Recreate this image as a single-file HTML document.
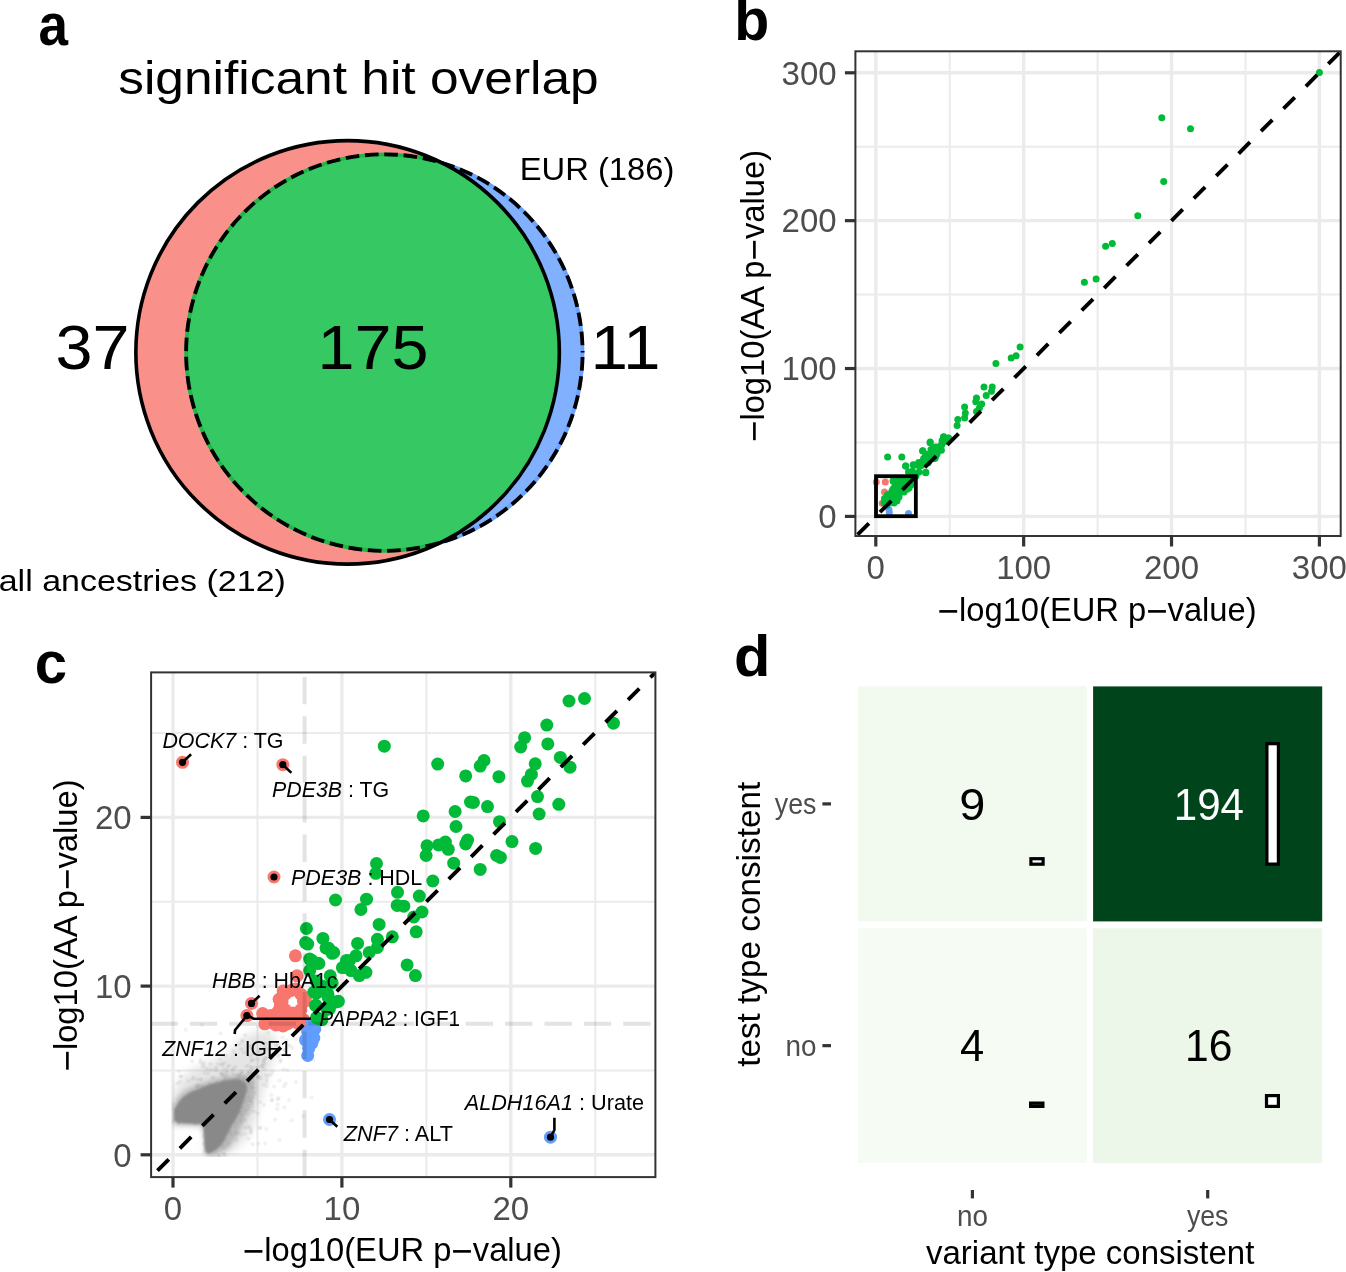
<!DOCTYPE html><html><head><meta charset="utf-8"><style>html,body{margin:0;padding:0;background:#fff;}svg{display:block;will-change:transform;}text{font-family:"Liberation Sans", sans-serif;}</style></head><body>
<svg width="1346" height="1272" viewBox="0 0 1346 1272">
<rect width="100%" height="100%" fill="#fff"/>
<defs>
<clipPath id="clipC1"><circle cx="347.6" cy="352.35" r="211.75"/></clipPath>
<clipPath id="clipOutC1"><path fill-rule="evenodd" d="M0 0H1346V1272H0Z M135.85000000000002 352.35 a211.75 211.75 0 1 0 423.5 0 a211.75 211.75 0 1 0 -423.5 0Z"/></clipPath>
</defs>
<circle cx="347.6" cy="352.35" r="211.75" fill="#F9918A"/>
<circle cx="384.35" cy="352.55" r="198.25" fill="#81B0FF"/>
<circle cx="384.35" cy="352.55" r="198.25" fill="#36C862" clip-path="url(#clipC1)"/>
<circle cx="384.35" cy="352.55" r="198.25" fill="none" stroke="#1DB847" stroke-width="3.8" clip-path="url(#clipC1)"/>
<circle cx="384.35" cy="352.55" r="198.25" fill="none" stroke="#6AA3FF" stroke-width="3.8" clip-path="url(#clipOutC1)"/>
<circle cx="347.6" cy="352.35" r="211.75" fill="none" stroke="#000" stroke-width="3.6"/>
<circle cx="384.35" cy="352.55" r="198.25" fill="none" stroke="#000" stroke-width="3.8" stroke-dasharray="13.6 5.76" stroke-dashoffset="-4.5"/>
<text x="38.6" y="45.2" font-size="58.5" text-anchor="start" fill="#000" font-weight="bold" font-style="normal" textLength="29.5" lengthAdjust="spacingAndGlyphs" >a</text>
<text x="118.2" y="93.8" font-size="47" text-anchor="start" fill="#000" font-weight="normal" font-style="normal" textLength="480.5" lengthAdjust="spacingAndGlyphs" >significant hit overlap</text>
<text x="519.8" y="179.5" font-size="31.2" text-anchor="start" fill="#000" font-weight="normal" font-style="normal" textLength="154.5" lengthAdjust="spacingAndGlyphs" >EUR (186)</text>
<text x="55.5" y="368.5" font-size="62.5" text-anchor="start" fill="#000" font-weight="normal" font-style="normal" textLength="74" lengthAdjust="spacingAndGlyphs" >37</text>
<text x="317.5" y="368.5" font-size="62.5" text-anchor="start" fill="#000" font-weight="normal" font-style="normal" textLength="111" lengthAdjust="spacingAndGlyphs" >175</text>
<text x="590.5" y="368.5" font-size="62.5" text-anchor="start" fill="#000" font-weight="normal" font-style="normal" textLength="70" lengthAdjust="spacingAndGlyphs" >11</text>
<text x="-1.3" y="590.7" font-size="30.3" text-anchor="start" fill="#000" font-weight="normal" font-style="normal" textLength="287.2" lengthAdjust="spacingAndGlyphs" >all ancestries (212)</text>
<defs><clipPath id="clipB"><rect x="855.4" y="51.3" width="485.30000000000007" height="484.7"/></clipPath></defs>
<g clip-path="url(#clipB)">
<line x1="949.7349999999999" y1="51.3" x2="949.7349999999999" y2="536.0" stroke="#EBEBEB" stroke-width="2.0"/>
<line x1="855.4" y1="442.465" x2="1340.7" y2="442.465" stroke="#EBEBEB" stroke-width="2.0"/>
<line x1="1097.605" y1="51.3" x2="1097.605" y2="536.0" stroke="#EBEBEB" stroke-width="2.0"/>
<line x1="855.4" y1="294.595" x2="1340.7" y2="294.595" stroke="#EBEBEB" stroke-width="2.0"/>
<line x1="1245.475" y1="51.3" x2="1245.475" y2="536.0" stroke="#EBEBEB" stroke-width="2.0"/>
<line x1="855.4" y1="146.72500000000002" x2="1340.7" y2="146.72500000000002" stroke="#EBEBEB" stroke-width="2.0"/>
<line x1="875.8" y1="51.3" x2="875.8" y2="536.0" stroke="#EBEBEB" stroke-width="3.4"/>
<line x1="855.4" y1="516.4" x2="1340.7" y2="516.4" stroke="#EBEBEB" stroke-width="3.4"/>
<line x1="1023.67" y1="51.3" x2="1023.67" y2="536.0" stroke="#EBEBEB" stroke-width="3.4"/>
<line x1="855.4" y1="368.53" x2="1340.7" y2="368.53" stroke="#EBEBEB" stroke-width="3.4"/>
<line x1="1171.54" y1="51.3" x2="1171.54" y2="536.0" stroke="#EBEBEB" stroke-width="3.4"/>
<line x1="855.4" y1="220.65999999999997" x2="1340.7" y2="220.65999999999997" stroke="#EBEBEB" stroke-width="3.4"/>
<line x1="1319.4099999999999" y1="51.3" x2="1319.4099999999999" y2="536.0" stroke="#EBEBEB" stroke-width="3.4"/>
<line x1="855.4" y1="72.79000000000002" x2="1340.7" y2="72.79000000000002" stroke="#EBEBEB" stroke-width="3.4"/>
<circle cx="876.3" cy="482.1" r="3.5" fill="#F8766D"/>
<circle cx="885.3" cy="482.1" r="3.5" fill="#F8766D"/>
<circle cx="884.5" cy="491.9" r="3.5" fill="#F8766D"/>
<circle cx="882.2" cy="503.3" r="3.5" fill="#F8766D"/>
<circle cx="889.3" cy="512.4" r="3.5" fill="#619CFF"/>
<circle cx="888.9" cy="509.6" r="3.5" fill="#619CFF"/>
<circle cx="908.5" cy="513.6" r="3.5" fill="#619CFF"/>
<circle cx="1319.4" cy="72.6" r="3.5" fill="#00BA38"/>
<circle cx="1161.8" cy="117.8" r="3.5" fill="#00BA38"/>
<circle cx="1190.5" cy="128.8" r="3.5" fill="#00BA38"/>
<circle cx="1163.7" cy="181.4" r="3.5" fill="#00BA38"/>
<circle cx="1137.8" cy="215.8" r="3.5" fill="#00BA38"/>
<circle cx="1105.6" cy="246.2" r="3.5" fill="#00BA38"/>
<circle cx="1112.3" cy="243.5" r="3.5" fill="#00BA38"/>
<circle cx="1084.4" cy="282.3" r="3.5" fill="#00BA38"/>
<circle cx="1096.1" cy="278.9" r="3.5" fill="#00BA38"/>
<circle cx="1020.1" cy="346.9" r="3.5" fill="#00BA38"/>
<circle cx="1016.1" cy="355.8" r="3.5" fill="#00BA38"/>
<circle cx="1011.2" cy="357.9" r="3.5" fill="#00BA38"/>
<circle cx="995.9" cy="363.6" r="3.5" fill="#00BA38"/>
<circle cx="984.0" cy="387.1" r="3.5" fill="#00BA38"/>
<circle cx="992.2" cy="387.1" r="3.5" fill="#00BA38"/>
<circle cx="991.5" cy="391.2" r="3.5" fill="#00BA38"/>
<circle cx="986.2" cy="395.4" r="3.5" fill="#00BA38"/>
<circle cx="976.5" cy="398.0" r="3.5" fill="#00BA38"/>
<circle cx="975.8" cy="401.7" r="3.5" fill="#00BA38"/>
<circle cx="981.7" cy="404.0" r="3.5" fill="#00BA38"/>
<circle cx="979.5" cy="407.7" r="3.5" fill="#00BA38"/>
<circle cx="976.5" cy="411.4" r="3.5" fill="#00BA38"/>
<circle cx="964.6" cy="406.9" r="3.5" fill="#00BA38"/>
<circle cx="965.3" cy="412.9" r="3.5" fill="#00BA38"/>
<circle cx="964.6" cy="418.1" r="3.5" fill="#00BA38"/>
<circle cx="957.8" cy="419.6" r="3.5" fill="#00BA38"/>
<circle cx="957.1" cy="425.6" r="3.5" fill="#00BA38"/>
<circle cx="943.7" cy="436.8" r="3.5" fill="#00BA38"/>
<circle cx="948.1" cy="438.3" r="3.5" fill="#00BA38"/>
<circle cx="945.2" cy="441.3" r="3.5" fill="#00BA38"/>
<circle cx="941.4" cy="445.0" r="3.5" fill="#00BA38"/>
<circle cx="936.9" cy="447.3" r="3.5" fill="#00BA38"/>
<circle cx="930.2" cy="442.0" r="3.5" fill="#00BA38"/>
<circle cx="931.0" cy="449.5" r="3.5" fill="#00BA38"/>
<circle cx="922.7" cy="451.0" r="3.5" fill="#00BA38"/>
<circle cx="925.7" cy="454.0" r="3.5" fill="#00BA38"/>
<circle cx="934.7" cy="458.5" r="3.5" fill="#00BA38"/>
<circle cx="924.2" cy="460.0" r="3.5" fill="#00BA38"/>
<circle cx="920.5" cy="463.0" r="3.5" fill="#00BA38"/>
<circle cx="913.8" cy="465.2" r="3.5" fill="#00BA38"/>
<circle cx="905.6" cy="466.0" r="3.5" fill="#00BA38"/>
<circle cx="925.7" cy="472.7" r="3.5" fill="#00BA38"/>
<circle cx="912.3" cy="471.2" r="3.5" fill="#00BA38"/>
<circle cx="887.6" cy="457.0" r="3.5" fill="#00BA38"/>
<circle cx="901.8" cy="457.0" r="3.5" fill="#00BA38"/>
<circle cx="905.8" cy="466.0" r="3.5" fill="#00BA38"/>
<circle cx="913.2" cy="464.8" r="3.5" fill="#00BA38"/>
<circle cx="918.7" cy="462.5" r="3.5" fill="#00BA38"/>
<circle cx="922.7" cy="450.7" r="3.5" fill="#00BA38"/>
<circle cx="930.1" cy="442.8" r="3.5" fill="#00BA38"/>
<circle cx="943.5" cy="436.9" r="3.5" fill="#00BA38"/>
<circle cx="948.6" cy="438.1" r="3.5" fill="#00BA38"/>
<circle cx="935.3" cy="457.7" r="3.5" fill="#00BA38"/>
<circle cx="925.8" cy="472.3" r="3.5" fill="#00BA38"/>
<circle cx="893.6" cy="480.5" r="3.5" fill="#00BA38"/>
<circle cx="908.5" cy="471.9" r="3.5" fill="#00BA38"/>
<circle cx="898.3" cy="490.8" r="3.5" fill="#00BA38"/>
<circle cx="907.0" cy="489.2" r="3.5" fill="#00BA38"/>
<circle cx="896.7" cy="501.0" r="3.5" fill="#00BA38"/>
<circle cx="890.4" cy="502.5" r="3.5" fill="#00BA38"/>
<circle cx="887.3" cy="494.7" r="3.5" fill="#00BA38"/>
<circle cx="921.6" cy="465.5" r="3.5" fill="#00BA38"/>
<circle cx="925.8" cy="461.9" r="3.5" fill="#00BA38"/>
<circle cx="934.0" cy="448.3" r="3.5" fill="#00BA38"/>
<circle cx="914.4" cy="475.7" r="3.5" fill="#00BA38"/>
<circle cx="922.3" cy="461.7" r="3.5" fill="#00BA38"/>
<circle cx="945.9" cy="440.5" r="3.5" fill="#00BA38"/>
<circle cx="940.8" cy="445.7" r="3.5" fill="#00BA38"/>
<circle cx="934.5" cy="448.8" r="3.5" fill="#00BA38"/>
<circle cx="934.3" cy="456.1" r="3.5" fill="#00BA38"/>
<circle cx="930.7" cy="458.4" r="3.5" fill="#00BA38"/>
<circle cx="935.5" cy="446.9" r="3.5" fill="#00BA38"/>
<circle cx="938.3" cy="449.3" r="3.5" fill="#00BA38"/>
<circle cx="923.6" cy="458.4" r="3.5" fill="#00BA38"/>
<circle cx="941.7" cy="444.7" r="3.5" fill="#00BA38"/>
<circle cx="937.0" cy="453.5" r="3.5" fill="#00BA38"/>
<circle cx="936.9" cy="454.1" r="3.5" fill="#00BA38"/>
<circle cx="926.6" cy="463.1" r="3.5" fill="#00BA38"/>
<circle cx="928.2" cy="462.8" r="3.5" fill="#00BA38"/>
<circle cx="942.1" cy="440.6" r="3.5" fill="#00BA38"/>
<circle cx="918.4" cy="465.5" r="3.5" fill="#00BA38"/>
<circle cx="944.9" cy="441.2" r="3.5" fill="#00BA38"/>
<circle cx="934.1" cy="450.7" r="3.5" fill="#00BA38"/>
<circle cx="930.2" cy="455.3" r="3.5" fill="#00BA38"/>
<circle cx="925.2" cy="462.3" r="3.5" fill="#00BA38"/>
<circle cx="932.7" cy="458.0" r="3.5" fill="#00BA38"/>
<circle cx="935.8" cy="455.2" r="3.5" fill="#00BA38"/>
<circle cx="941.4" cy="450.2" r="3.5" fill="#00BA38"/>
<circle cx="935.5" cy="447.9" r="3.5" fill="#00BA38"/>
<circle cx="884.0" cy="503.0" r="3.5" fill="#00BA38"/>
<circle cx="886.0" cy="500.0" r="3.5" fill="#00BA38"/>
<circle cx="888.0" cy="497.0" r="3.5" fill="#00BA38"/>
<circle cx="890.0" cy="494.0" r="3.5" fill="#00BA38"/>
<circle cx="892.0" cy="491.0" r="3.5" fill="#00BA38"/>
<circle cx="887.0" cy="505.0" r="3.5" fill="#00BA38"/>
<circle cx="890.0" cy="502.0" r="3.5" fill="#00BA38"/>
<circle cx="893.0" cy="499.0" r="3.5" fill="#00BA38"/>
<circle cx="896.0" cy="497.0" r="3.5" fill="#00BA38"/>
<circle cx="894.0" cy="503.0" r="3.5" fill="#00BA38"/>
<circle cx="897.0" cy="500.5" r="3.5" fill="#00BA38"/>
<circle cx="899.0" cy="497.0" r="3.5" fill="#00BA38"/>
<circle cx="884.5" cy="498.6" r="3.5" fill="#00BA38"/>
<circle cx="893.0" cy="481.0" r="3.5" fill="#00BA38"/>
<circle cx="897.0" cy="481.0" r="3.5" fill="#00BA38"/>
<circle cx="901.0" cy="481.0" r="3.5" fill="#00BA38"/>
<circle cx="905.0" cy="481.0" r="3.5" fill="#00BA38"/>
<circle cx="909.0" cy="481.0" r="3.5" fill="#00BA38"/>
<circle cx="912.5" cy="481.0" r="3.5" fill="#00BA38"/>
<circle cx="895.0" cy="485.0" r="3.5" fill="#00BA38"/>
<circle cx="899.0" cy="485.0" r="3.5" fill="#00BA38"/>
<circle cx="903.0" cy="485.0" r="3.5" fill="#00BA38"/>
<circle cx="907.0" cy="485.0" r="3.5" fill="#00BA38"/>
<circle cx="911.0" cy="485.0" r="3.5" fill="#00BA38"/>
<circle cx="893.0" cy="489.0" r="3.5" fill="#00BA38"/>
<circle cx="897.0" cy="489.0" r="3.5" fill="#00BA38"/>
<circle cx="901.0" cy="489.0" r="3.5" fill="#00BA38"/>
<circle cx="905.0" cy="489.0" r="3.5" fill="#00BA38"/>
<circle cx="909.0" cy="488.0" r="3.5" fill="#00BA38"/>
<circle cx="896.0" cy="492.5" r="3.5" fill="#00BA38"/>
<circle cx="900.0" cy="492.5" r="3.5" fill="#00BA38"/>
<circle cx="904.0" cy="492.0" r="3.5" fill="#00BA38"/>
<circle cx="916.0" cy="476.0" r="3.5" fill="#00BA38"/>
<circle cx="919.0" cy="472.0" r="3.5" fill="#00BA38"/>
<circle cx="914.0" cy="474.0" r="3.5" fill="#00BA38"/>
<line x1="855.4" y1="536.8" x2="1340.7" y2="51.5" stroke="#000" stroke-width="3.9" stroke-dasharray="16 15.7" stroke-dashoffset="28.6"/>
<rect x="876" y="476.2" width="39.85" height="40" fill="none" stroke="#000" stroke-width="3.8"/>
</g>
<rect x="855.4" y="51.3" width="485.30000000000007" height="484.7" fill="none" stroke="#333" stroke-width="2"/>
<line x1="844.9" y1="516.4" x2="855.4" y2="516.4" stroke="#333" stroke-width="3.2"/>
<line x1="875.8" y1="536.0" x2="875.8" y2="546.5" stroke="#333" stroke-width="3.2"/>
<text x="836.6" y="528.1" font-size="33" text-anchor="end" fill="#4D4D4D" font-weight="normal" font-style="normal" >0</text>
<text x="875.8" y="579.0" font-size="33" text-anchor="middle" fill="#4D4D4D" font-weight="normal" font-style="normal" >0</text>
<line x1="844.9" y1="368.53" x2="855.4" y2="368.53" stroke="#333" stroke-width="3.2"/>
<line x1="1023.67" y1="536.0" x2="1023.67" y2="546.5" stroke="#333" stroke-width="3.2"/>
<text x="836.6" y="380.2" font-size="33" text-anchor="end" fill="#4D4D4D" font-weight="normal" font-style="normal" >100</text>
<text x="1023.7" y="579.0" font-size="33" text-anchor="middle" fill="#4D4D4D" font-weight="normal" font-style="normal" >100</text>
<line x1="844.9" y1="220.65999999999997" x2="855.4" y2="220.65999999999997" stroke="#333" stroke-width="3.2"/>
<line x1="1171.54" y1="536.0" x2="1171.54" y2="546.5" stroke="#333" stroke-width="3.2"/>
<text x="836.6" y="232.4" font-size="33" text-anchor="end" fill="#4D4D4D" font-weight="normal" font-style="normal" >200</text>
<text x="1171.5" y="579.0" font-size="33" text-anchor="middle" fill="#4D4D4D" font-weight="normal" font-style="normal" >200</text>
<line x1="844.9" y1="72.79000000000002" x2="855.4" y2="72.79000000000002" stroke="#333" stroke-width="3.2"/>
<line x1="1319.4099999999999" y1="536.0" x2="1319.4099999999999" y2="546.5" stroke="#333" stroke-width="3.2"/>
<text x="836.6" y="84.5" font-size="33" text-anchor="end" fill="#4D4D4D" font-weight="normal" font-style="normal" >300</text>
<text x="1319.4" y="579.0" font-size="33" text-anchor="middle" fill="#4D4D4D" font-weight="normal" font-style="normal" >300</text>
<text x="1097.1" y="620.6" font-size="33.5" text-anchor="middle" fill="#000" font-weight="normal" font-style="normal" textLength="319" lengthAdjust="spacingAndGlyphs" ><tspan font-size="37.7" dy="2.9">−</tspan><tspan dy="-2.9">log10(EUR p</tspan><tspan font-size="37.7" dy="2.9">−</tspan><tspan dy="-2.9">value)</tspan></text>
<text transform="translate(763.7,296) rotate(-90)" x="0" y="0" font-size="33.5" text-anchor="middle" fill="#000" textLength="292.2" lengthAdjust="spacingAndGlyphs"><tspan font-size="37.7" dy="2.9">−</tspan><tspan dy="-2.9">log10(AA p</tspan><tspan font-size="37.7" dy="2.9">−</tspan><tspan dy="-2.9">value)</tspan></text>
<text x="734.3" y="40.1" font-size="58.5" text-anchor="start" fill="#000" font-weight="bold" font-style="normal" textLength="35" lengthAdjust="spacingAndGlyphs" >b</text>
<defs><clipPath id="clipC"><rect x="151.1" y="672.4" width="504.29999999999995" height="504.69999999999993"/></clipPath></defs>
<g clip-path="url(#clipC)">
<line x1="257.45" y1="672.4" x2="257.45" y2="1177.1" stroke="#EBEBEB" stroke-width="2.0"/>
<line x1="151.1" y1="1070.45" x2="655.4" y2="1070.45" stroke="#EBEBEB" stroke-width="2.0"/>
<line x1="426.35" y1="672.4" x2="426.35" y2="1177.1" stroke="#EBEBEB" stroke-width="2.0"/>
<line x1="151.1" y1="901.75" x2="655.4" y2="901.75" stroke="#EBEBEB" stroke-width="2.0"/>
<line x1="595.25" y1="672.4" x2="595.25" y2="1177.1" stroke="#EBEBEB" stroke-width="2.0"/>
<line x1="151.1" y1="733.05" x2="655.4" y2="733.05" stroke="#EBEBEB" stroke-width="2.0"/>
<line x1="173.0" y1="672.4" x2="173.0" y2="1177.1" stroke="#EBEBEB" stroke-width="3.4"/>
<line x1="151.1" y1="1154.8" x2="655.4" y2="1154.8" stroke="#EBEBEB" stroke-width="3.4"/>
<line x1="341.9" y1="672.4" x2="341.9" y2="1177.1" stroke="#EBEBEB" stroke-width="3.4"/>
<line x1="151.1" y1="986.0999999999999" x2="655.4" y2="986.0999999999999" stroke="#EBEBEB" stroke-width="3.4"/>
<line x1="510.8" y1="672.4" x2="510.8" y2="1177.1" stroke="#EBEBEB" stroke-width="3.4"/>
<line x1="151.1" y1="817.3999999999999" x2="655.4" y2="817.3999999999999" stroke="#EBEBEB" stroke-width="3.4"/>
<defs><filter id="blur3" x="-50%" y="-50%" width="200%" height="200%"><feGaussianBlur stdDeviation="2.5"/></filter><filter id="blur5" x="-50%" y="-50%" width="200%" height="200%"><feGaussianBlur stdDeviation="4.5"/></filter><filter id="blur1" x="-20%" y="-20%" width="140%" height="140%"><feGaussianBlur stdDeviation="0.9"/></filter><clipPath id="clipBlob"><rect x="171.5" y="1000" width="200" height="157"/></clipPath></defs>
<g clip-path="url(#clipBlob)">
<polygon points="173.5,1094 180,1079.6 194.8,1067.7 214.2,1060.2 229.2,1052.7 239.6,1039.3 254.6,1031.8 266.5,1030.3 277,1039.3 274,1057.2 266.5,1079.6 260.5,1102 254.6,1124.4 245.6,1139.4 233.6,1151.3 217.2,1155.5 206,1156 204,1130 200,1125 173.5,1125" fill="#B0B0B0" opacity="0.33" filter="url(#blur5)"/>
<circle cx="240.9" cy="1086.6" r="2.1" fill="#8A8A8A" opacity="0.11"/>
<circle cx="191.4" cy="1105.8" r="2.1" fill="#8A8A8A" opacity="0.11"/>
<circle cx="307.8" cy="1043.8" r="2.1" fill="#8A8A8A" opacity="0.11"/>
<circle cx="211.8" cy="1077.8" r="2.1" fill="#8A8A8A" opacity="0.11"/>
<circle cx="219.2" cy="1155.9" r="2.1" fill="#8A8A8A" opacity="0.11"/>
<circle cx="237.2" cy="1133.2" r="2.1" fill="#8A8A8A" opacity="0.11"/>
<circle cx="258.3" cy="1059.6" r="2.1" fill="#8A8A8A" opacity="0.11"/>
<circle cx="217.7" cy="1126.6" r="2.1" fill="#8A8A8A" opacity="0.11"/>
<circle cx="192.1" cy="1079.1" r="2.1" fill="#8A8A8A" opacity="0.11"/>
<circle cx="242.3" cy="1040.2" r="2.1" fill="#8A8A8A" opacity="0.11"/>
<circle cx="241.9" cy="1115.7" r="2.1" fill="#8A8A8A" opacity="0.11"/>
<circle cx="285.7" cy="1083.7" r="2.1" fill="#8A8A8A" opacity="0.11"/>
<circle cx="214.9" cy="1117.8" r="2.1" fill="#8A8A8A" opacity="0.11"/>
<circle cx="234.4" cy="1126.4" r="2.1" fill="#8A8A8A" opacity="0.11"/>
<circle cx="231.6" cy="1111.6" r="2.1" fill="#8A8A8A" opacity="0.11"/>
<circle cx="241.1" cy="1087.7" r="2.1" fill="#8A8A8A" opacity="0.11"/>
<circle cx="196.4" cy="1087.3" r="2.1" fill="#8A8A8A" opacity="0.11"/>
<circle cx="232.1" cy="1116.9" r="2.1" fill="#8A8A8A" opacity="0.11"/>
<circle cx="222.6" cy="1081.1" r="2.1" fill="#8A8A8A" opacity="0.11"/>
<circle cx="224.6" cy="1105.1" r="2.1" fill="#8A8A8A" opacity="0.11"/>
<circle cx="222.0" cy="1108.0" r="2.1" fill="#8A8A8A" opacity="0.11"/>
<circle cx="245.3" cy="1101.2" r="2.1" fill="#8A8A8A" opacity="0.11"/>
<circle cx="260.5" cy="1066.5" r="2.1" fill="#8A8A8A" opacity="0.11"/>
<circle cx="278.1" cy="1056.7" r="2.1" fill="#8A8A8A" opacity="0.11"/>
<circle cx="212.2" cy="1111.6" r="2.1" fill="#8A8A8A" opacity="0.11"/>
<circle cx="234.4" cy="1074.3" r="2.1" fill="#8A8A8A" opacity="0.11"/>
<circle cx="215.2" cy="1151.7" r="2.1" fill="#8A8A8A" opacity="0.11"/>
<circle cx="286.8" cy="1040.3" r="2.1" fill="#8A8A8A" opacity="0.11"/>
<circle cx="269.3" cy="1048.5" r="2.1" fill="#8A8A8A" opacity="0.11"/>
<circle cx="194.3" cy="1123.6" r="2.1" fill="#8A8A8A" opacity="0.11"/>
<circle cx="216.9" cy="1126.3" r="2.1" fill="#8A8A8A" opacity="0.11"/>
<circle cx="225.2" cy="1111.9" r="2.1" fill="#8A8A8A" opacity="0.11"/>
<circle cx="227.8" cy="1115.1" r="2.1" fill="#8A8A8A" opacity="0.11"/>
<circle cx="255.5" cy="1079.6" r="2.1" fill="#8A8A8A" opacity="0.11"/>
<circle cx="230.0" cy="1109.0" r="2.1" fill="#8A8A8A" opacity="0.11"/>
<circle cx="201.6" cy="1118.1" r="2.1" fill="#8A8A8A" opacity="0.11"/>
<circle cx="221.1" cy="1131.6" r="2.1" fill="#8A8A8A" opacity="0.11"/>
<circle cx="235.2" cy="1087.1" r="2.1" fill="#8A8A8A" opacity="0.11"/>
<circle cx="221.0" cy="1073.1" r="2.1" fill="#8A8A8A" opacity="0.11"/>
<circle cx="199.5" cy="1092.2" r="2.1" fill="#8A8A8A" opacity="0.11"/>
<circle cx="259.6" cy="1128.3" r="2.1" fill="#8A8A8A" opacity="0.11"/>
<circle cx="229.2" cy="1095.3" r="2.1" fill="#8A8A8A" opacity="0.11"/>
<circle cx="221.2" cy="1105.5" r="2.1" fill="#8A8A8A" opacity="0.11"/>
<circle cx="238.1" cy="1085.9" r="2.1" fill="#8A8A8A" opacity="0.11"/>
<circle cx="224.4" cy="1081.6" r="2.1" fill="#8A8A8A" opacity="0.11"/>
<circle cx="237.2" cy="1089.5" r="2.1" fill="#8A8A8A" opacity="0.11"/>
<circle cx="209.1" cy="1128.3" r="2.1" fill="#8A8A8A" opacity="0.11"/>
<circle cx="214.2" cy="1121.6" r="2.1" fill="#8A8A8A" opacity="0.11"/>
<circle cx="213.3" cy="1092.3" r="2.1" fill="#8A8A8A" opacity="0.11"/>
<circle cx="210.9" cy="1127.6" r="2.1" fill="#8A8A8A" opacity="0.11"/>
<circle cx="204.0" cy="1151.8" r="2.1" fill="#8A8A8A" opacity="0.11"/>
<circle cx="210.5" cy="1117.3" r="2.1" fill="#8A8A8A" opacity="0.11"/>
<circle cx="231.6" cy="1082.0" r="2.1" fill="#8A8A8A" opacity="0.11"/>
<circle cx="270.5" cy="1048.8" r="2.1" fill="#8A8A8A" opacity="0.11"/>
<circle cx="222.6" cy="1074.5" r="2.1" fill="#8A8A8A" opacity="0.11"/>
<circle cx="228.5" cy="1143.3" r="2.1" fill="#8A8A8A" opacity="0.11"/>
<circle cx="218.4" cy="1115.9" r="2.1" fill="#8A8A8A" opacity="0.11"/>
<circle cx="227.8" cy="1109.4" r="2.1" fill="#8A8A8A" opacity="0.11"/>
<circle cx="179.2" cy="1115.6" r="2.1" fill="#8A8A8A" opacity="0.11"/>
<circle cx="209.2" cy="1083.8" r="2.1" fill="#8A8A8A" opacity="0.11"/>
<circle cx="231.5" cy="1114.4" r="2.1" fill="#8A8A8A" opacity="0.11"/>
<circle cx="221.6" cy="1119.6" r="2.1" fill="#8A8A8A" opacity="0.11"/>
<circle cx="223.8" cy="1075.7" r="2.1" fill="#8A8A8A" opacity="0.11"/>
<circle cx="232.4" cy="1114.6" r="2.1" fill="#8A8A8A" opacity="0.11"/>
<circle cx="228.0" cy="1105.8" r="2.1" fill="#8A8A8A" opacity="0.11"/>
<circle cx="218.7" cy="1103.8" r="2.1" fill="#8A8A8A" opacity="0.11"/>
<circle cx="262.3" cy="1065.4" r="2.1" fill="#8A8A8A" opacity="0.11"/>
<circle cx="214.2" cy="1138.0" r="2.1" fill="#8A8A8A" opacity="0.11"/>
<circle cx="261.0" cy="1078.2" r="2.1" fill="#8A8A8A" opacity="0.11"/>
<circle cx="230.4" cy="1119.6" r="2.1" fill="#8A8A8A" opacity="0.11"/>
<circle cx="216.6" cy="1086.5" r="2.1" fill="#8A8A8A" opacity="0.11"/>
<circle cx="208.5" cy="1073.4" r="2.1" fill="#8A8A8A" opacity="0.11"/>
<circle cx="206.1" cy="1120.7" r="2.1" fill="#8A8A8A" opacity="0.11"/>
<circle cx="226.1" cy="1099.3" r="2.1" fill="#8A8A8A" opacity="0.11"/>
<circle cx="216.6" cy="1100.9" r="2.1" fill="#8A8A8A" opacity="0.11"/>
<circle cx="214.3" cy="1110.9" r="2.1" fill="#8A8A8A" opacity="0.11"/>
<circle cx="238.3" cy="1076.6" r="2.1" fill="#8A8A8A" opacity="0.11"/>
<circle cx="219.3" cy="1118.6" r="2.1" fill="#8A8A8A" opacity="0.11"/>
<circle cx="220.5" cy="1113.3" r="2.1" fill="#8A8A8A" opacity="0.11"/>
<circle cx="210.7" cy="1118.0" r="2.1" fill="#8A8A8A" opacity="0.11"/>
<circle cx="227.9" cy="1116.0" r="2.1" fill="#8A8A8A" opacity="0.11"/>
<circle cx="206.2" cy="1121.2" r="2.1" fill="#8A8A8A" opacity="0.11"/>
<circle cx="217.4" cy="1134.5" r="2.1" fill="#8A8A8A" opacity="0.11"/>
<circle cx="251.2" cy="1101.0" r="2.1" fill="#8A8A8A" opacity="0.11"/>
<circle cx="225.7" cy="1126.0" r="2.1" fill="#8A8A8A" opacity="0.11"/>
<circle cx="181.1" cy="1109.0" r="2.1" fill="#8A8A8A" opacity="0.11"/>
<circle cx="233.8" cy="1083.5" r="2.1" fill="#8A8A8A" opacity="0.11"/>
<circle cx="221.7" cy="1063.9" r="2.1" fill="#8A8A8A" opacity="0.11"/>
<circle cx="207.3" cy="1107.3" r="2.1" fill="#8A8A8A" opacity="0.11"/>
<circle cx="220.9" cy="1095.1" r="2.1" fill="#8A8A8A" opacity="0.11"/>
<circle cx="197.6" cy="1118.8" r="2.1" fill="#8A8A8A" opacity="0.11"/>
<circle cx="223.4" cy="1093.9" r="2.1" fill="#8A8A8A" opacity="0.11"/>
<circle cx="235.1" cy="1093.3" r="2.1" fill="#8A8A8A" opacity="0.11"/>
<circle cx="244.5" cy="1083.0" r="2.1" fill="#8A8A8A" opacity="0.11"/>
<circle cx="181.5" cy="1109.1" r="2.1" fill="#8A8A8A" opacity="0.11"/>
<circle cx="249.3" cy="1083.8" r="2.1" fill="#8A8A8A" opacity="0.11"/>
<circle cx="178.9" cy="1115.2" r="2.1" fill="#8A8A8A" opacity="0.11"/>
<circle cx="180.1" cy="1081.8" r="2.1" fill="#8A8A8A" opacity="0.11"/>
<circle cx="236.7" cy="1078.9" r="2.1" fill="#8A8A8A" opacity="0.11"/>
<circle cx="224.2" cy="1122.0" r="2.1" fill="#8A8A8A" opacity="0.11"/>
<circle cx="216.5" cy="1112.6" r="2.1" fill="#8A8A8A" opacity="0.11"/>
<circle cx="225.0" cy="1090.8" r="2.1" fill="#8A8A8A" opacity="0.11"/>
<circle cx="227.4" cy="1107.7" r="2.1" fill="#8A8A8A" opacity="0.11"/>
<circle cx="205.0" cy="1102.4" r="2.1" fill="#8A8A8A" opacity="0.11"/>
<circle cx="205.9" cy="1116.3" r="2.1" fill="#8A8A8A" opacity="0.11"/>
<circle cx="252.4" cy="1097.2" r="2.1" fill="#8A8A8A" opacity="0.11"/>
<circle cx="214.8" cy="1094.1" r="2.1" fill="#8A8A8A" opacity="0.11"/>
<circle cx="246.6" cy="1081.1" r="2.1" fill="#8A8A8A" opacity="0.11"/>
<circle cx="252.4" cy="1087.6" r="2.1" fill="#8A8A8A" opacity="0.11"/>
<circle cx="251.3" cy="1067.9" r="2.1" fill="#8A8A8A" opacity="0.11"/>
<circle cx="200.6" cy="1062.3" r="2.1" fill="#8A8A8A" opacity="0.11"/>
<circle cx="228.7" cy="1114.8" r="2.1" fill="#8A8A8A" opacity="0.11"/>
<circle cx="219.8" cy="1100.6" r="2.1" fill="#8A8A8A" opacity="0.11"/>
<circle cx="199.1" cy="1118.0" r="2.1" fill="#8A8A8A" opacity="0.11"/>
<circle cx="224.9" cy="1155.9" r="2.1" fill="#8A8A8A" opacity="0.11"/>
<circle cx="202.9" cy="1105.7" r="2.1" fill="#8A8A8A" opacity="0.11"/>
<circle cx="209.7" cy="1122.0" r="2.1" fill="#8A8A8A" opacity="0.11"/>
<circle cx="213.2" cy="1117.8" r="2.1" fill="#8A8A8A" opacity="0.11"/>
<circle cx="289.2" cy="1100.0" r="2.1" fill="#8A8A8A" opacity="0.11"/>
<circle cx="239.1" cy="1099.4" r="2.1" fill="#8A8A8A" opacity="0.11"/>
<circle cx="240.9" cy="1094.6" r="2.1" fill="#8A8A8A" opacity="0.11"/>
<circle cx="210.1" cy="1110.2" r="2.1" fill="#8A8A8A" opacity="0.11"/>
<circle cx="229.3" cy="1065.7" r="2.1" fill="#8A8A8A" opacity="0.11"/>
<circle cx="193.4" cy="1121.3" r="2.1" fill="#8A8A8A" opacity="0.11"/>
<circle cx="212.5" cy="1109.8" r="2.1" fill="#8A8A8A" opacity="0.11"/>
<circle cx="220.0" cy="1105.1" r="2.1" fill="#8A8A8A" opacity="0.11"/>
<circle cx="226.4" cy="1105.2" r="2.1" fill="#8A8A8A" opacity="0.11"/>
<circle cx="224.4" cy="1062.8" r="2.1" fill="#8A8A8A" opacity="0.11"/>
<circle cx="262.6" cy="1066.2" r="2.1" fill="#8A8A8A" opacity="0.11"/>
<circle cx="212.7" cy="1112.4" r="2.1" fill="#8A8A8A" opacity="0.11"/>
<circle cx="217.2" cy="1070.7" r="2.1" fill="#8A8A8A" opacity="0.11"/>
<circle cx="250.6" cy="1046.9" r="2.1" fill="#8A8A8A" opacity="0.11"/>
<circle cx="244.3" cy="1088.9" r="2.1" fill="#8A8A8A" opacity="0.11"/>
<circle cx="216.8" cy="1100.6" r="2.1" fill="#8A8A8A" opacity="0.11"/>
<circle cx="176.1" cy="1113.7" r="2.1" fill="#8A8A8A" opacity="0.11"/>
<circle cx="233.2" cy="1089.1" r="2.1" fill="#8A8A8A" opacity="0.11"/>
<circle cx="210.8" cy="1131.0" r="2.1" fill="#8A8A8A" opacity="0.11"/>
<circle cx="230.2" cy="1126.7" r="2.1" fill="#8A8A8A" opacity="0.11"/>
<circle cx="189.0" cy="1105.6" r="2.1" fill="#8A8A8A" opacity="0.11"/>
<circle cx="256.3" cy="1072.5" r="2.1" fill="#8A8A8A" opacity="0.11"/>
<circle cx="259.5" cy="1051.6" r="2.1" fill="#8A8A8A" opacity="0.11"/>
<circle cx="300.9" cy="1036.7" r="2.1" fill="#8A8A8A" opacity="0.11"/>
<circle cx="254.5" cy="1092.9" r="2.1" fill="#8A8A8A" opacity="0.11"/>
<circle cx="248.7" cy="1079.0" r="2.1" fill="#8A8A8A" opacity="0.11"/>
<circle cx="243.1" cy="1101.4" r="2.1" fill="#8A8A8A" opacity="0.11"/>
<circle cx="240.7" cy="1112.1" r="2.1" fill="#8A8A8A" opacity="0.11"/>
<circle cx="198.2" cy="1115.4" r="2.1" fill="#8A8A8A" opacity="0.11"/>
<circle cx="234.4" cy="1099.8" r="2.1" fill="#8A8A8A" opacity="0.11"/>
<circle cx="209.9" cy="1136.3" r="2.1" fill="#8A8A8A" opacity="0.11"/>
<circle cx="245.3" cy="1134.0" r="2.1" fill="#8A8A8A" opacity="0.11"/>
<circle cx="227.1" cy="1082.6" r="2.1" fill="#8A8A8A" opacity="0.11"/>
<circle cx="205.6" cy="1112.1" r="2.1" fill="#8A8A8A" opacity="0.11"/>
<circle cx="237.9" cy="1090.9" r="2.1" fill="#8A8A8A" opacity="0.11"/>
<circle cx="193.8" cy="1118.2" r="2.1" fill="#8A8A8A" opacity="0.11"/>
<circle cx="195.1" cy="1103.8" r="2.1" fill="#8A8A8A" opacity="0.11"/>
<circle cx="178.7" cy="1123.1" r="2.1" fill="#8A8A8A" opacity="0.11"/>
<circle cx="206.5" cy="1124.8" r="2.1" fill="#8A8A8A" opacity="0.11"/>
<circle cx="198.4" cy="1086.1" r="2.1" fill="#8A8A8A" opacity="0.11"/>
<circle cx="214.8" cy="1109.0" r="2.1" fill="#8A8A8A" opacity="0.11"/>
<circle cx="224.1" cy="1096.9" r="2.1" fill="#8A8A8A" opacity="0.11"/>
<circle cx="224.4" cy="1115.4" r="2.1" fill="#8A8A8A" opacity="0.11"/>
<circle cx="233.1" cy="1098.6" r="2.1" fill="#8A8A8A" opacity="0.11"/>
<circle cx="173.1" cy="1121.3" r="2.1" fill="#8A8A8A" opacity="0.11"/>
<circle cx="185.9" cy="1117.7" r="2.1" fill="#8A8A8A" opacity="0.11"/>
<circle cx="229.6" cy="1131.6" r="2.1" fill="#8A8A8A" opacity="0.11"/>
<circle cx="236.0" cy="1091.1" r="2.1" fill="#8A8A8A" opacity="0.11"/>
<circle cx="214.4" cy="1125.2" r="2.1" fill="#8A8A8A" opacity="0.11"/>
<circle cx="215.0" cy="1070.3" r="2.1" fill="#8A8A8A" opacity="0.11"/>
<circle cx="251.8" cy="1111.1" r="2.1" fill="#8A8A8A" opacity="0.11"/>
<circle cx="236.6" cy="1101.2" r="2.1" fill="#8A8A8A" opacity="0.11"/>
<circle cx="230.6" cy="1121.4" r="2.1" fill="#8A8A8A" opacity="0.11"/>
<circle cx="247.6" cy="1073.1" r="2.1" fill="#8A8A8A" opacity="0.11"/>
<circle cx="264.0" cy="1104.8" r="2.1" fill="#8A8A8A" opacity="0.11"/>
<circle cx="226.0" cy="1118.3" r="2.1" fill="#8A8A8A" opacity="0.11"/>
<circle cx="265.2" cy="1047.4" r="2.1" fill="#8A8A8A" opacity="0.11"/>
<circle cx="202.6" cy="1120.9" r="2.1" fill="#8A8A8A" opacity="0.11"/>
<circle cx="284.8" cy="1052.8" r="2.1" fill="#8A8A8A" opacity="0.11"/>
<circle cx="216.0" cy="1131.2" r="2.1" fill="#8A8A8A" opacity="0.11"/>
<circle cx="211.4" cy="1103.3" r="2.1" fill="#8A8A8A" opacity="0.11"/>
<circle cx="222.1" cy="1110.6" r="2.1" fill="#8A8A8A" opacity="0.11"/>
<circle cx="201.2" cy="1079.6" r="2.1" fill="#8A8A8A" opacity="0.11"/>
<circle cx="247.2" cy="1090.9" r="2.1" fill="#8A8A8A" opacity="0.11"/>
<circle cx="204.7" cy="1072.9" r="2.1" fill="#8A8A8A" opacity="0.11"/>
<circle cx="238.4" cy="1082.9" r="2.1" fill="#8A8A8A" opacity="0.11"/>
<circle cx="188.8" cy="1116.2" r="2.1" fill="#8A8A8A" opacity="0.11"/>
<circle cx="277.7" cy="1104.7" r="2.1" fill="#8A8A8A" opacity="0.11"/>
<circle cx="279.4" cy="1054.5" r="2.1" fill="#8A8A8A" opacity="0.11"/>
<circle cx="251.1" cy="1129.3" r="2.1" fill="#8A8A8A" opacity="0.11"/>
<circle cx="216.1" cy="1123.8" r="2.1" fill="#8A8A8A" opacity="0.11"/>
<circle cx="179.0" cy="1071.5" r="2.1" fill="#8A8A8A" opacity="0.11"/>
<circle cx="276.4" cy="1045.7" r="2.1" fill="#8A8A8A" opacity="0.11"/>
<circle cx="265.9" cy="1075.6" r="2.1" fill="#8A8A8A" opacity="0.11"/>
<circle cx="245.3" cy="1086.4" r="2.1" fill="#8A8A8A" opacity="0.11"/>
<circle cx="222.8" cy="1117.8" r="2.1" fill="#8A8A8A" opacity="0.11"/>
<circle cx="265.2" cy="1143.5" r="2.1" fill="#8A8A8A" opacity="0.11"/>
<circle cx="215.4" cy="1118.0" r="2.1" fill="#8A8A8A" opacity="0.11"/>
<circle cx="223.1" cy="1082.0" r="2.1" fill="#8A8A8A" opacity="0.11"/>
<circle cx="235.9" cy="1134.6" r="2.1" fill="#8A8A8A" opacity="0.11"/>
<circle cx="219.4" cy="1143.5" r="2.1" fill="#8A8A8A" opacity="0.11"/>
<circle cx="245.1" cy="1128.0" r="2.1" fill="#8A8A8A" opacity="0.11"/>
<circle cx="207.5" cy="1119.6" r="2.1" fill="#8A8A8A" opacity="0.11"/>
<circle cx="211.8" cy="1144.9" r="2.1" fill="#8A8A8A" opacity="0.11"/>
<circle cx="213.3" cy="1106.4" r="2.1" fill="#8A8A8A" opacity="0.11"/>
<circle cx="235.3" cy="1106.8" r="2.1" fill="#8A8A8A" opacity="0.11"/>
<circle cx="239.0" cy="1111.0" r="2.1" fill="#8A8A8A" opacity="0.11"/>
<circle cx="209.2" cy="1104.4" r="2.1" fill="#8A8A8A" opacity="0.11"/>
<circle cx="237.4" cy="1096.6" r="2.1" fill="#8A8A8A" opacity="0.11"/>
<circle cx="225.7" cy="1089.4" r="2.1" fill="#8A8A8A" opacity="0.11"/>
<circle cx="173.0" cy="1104.5" r="2.1" fill="#8A8A8A" opacity="0.11"/>
<circle cx="302.0" cy="1024.2" r="2.1" fill="#8A8A8A" opacity="0.11"/>
<circle cx="225.8" cy="1079.5" r="2.1" fill="#8A8A8A" opacity="0.11"/>
<circle cx="215.2" cy="1117.0" r="2.1" fill="#8A8A8A" opacity="0.11"/>
<circle cx="303.3" cy="1116.3" r="2.1" fill="#8A8A8A" opacity="0.11"/>
<circle cx="208.4" cy="1118.0" r="2.1" fill="#8A8A8A" opacity="0.11"/>
<circle cx="222.6" cy="1101.2" r="2.1" fill="#8A8A8A" opacity="0.11"/>
<circle cx="216.8" cy="1107.4" r="2.1" fill="#8A8A8A" opacity="0.11"/>
<circle cx="209.5" cy="1123.5" r="2.1" fill="#8A8A8A" opacity="0.11"/>
<circle cx="196.8" cy="1119.2" r="2.1" fill="#8A8A8A" opacity="0.11"/>
<circle cx="249.8" cy="1072.0" r="2.1" fill="#8A8A8A" opacity="0.11"/>
<circle cx="226.2" cy="1073.2" r="2.1" fill="#8A8A8A" opacity="0.11"/>
<circle cx="225.7" cy="1083.4" r="2.1" fill="#8A8A8A" opacity="0.11"/>
<circle cx="198.7" cy="1085.7" r="2.1" fill="#8A8A8A" opacity="0.11"/>
<circle cx="216.7" cy="1104.3" r="2.1" fill="#8A8A8A" opacity="0.11"/>
<circle cx="211.5" cy="1126.9" r="2.1" fill="#8A8A8A" opacity="0.11"/>
<circle cx="202.7" cy="1109.6" r="2.1" fill="#8A8A8A" opacity="0.11"/>
<circle cx="208.2" cy="1124.7" r="2.1" fill="#8A8A8A" opacity="0.11"/>
<circle cx="237.9" cy="1085.6" r="2.1" fill="#8A8A8A" opacity="0.11"/>
<circle cx="224.7" cy="1104.0" r="2.1" fill="#8A8A8A" opacity="0.11"/>
<circle cx="203.1" cy="1111.2" r="2.1" fill="#8A8A8A" opacity="0.11"/>
<circle cx="240.7" cy="1119.5" r="2.1" fill="#8A8A8A" opacity="0.11"/>
<circle cx="225.2" cy="1103.9" r="2.1" fill="#8A8A8A" opacity="0.11"/>
<circle cx="268.9" cy="1050.1" r="2.1" fill="#8A8A8A" opacity="0.11"/>
<circle cx="244.4" cy="1111.6" r="2.1" fill="#8A8A8A" opacity="0.11"/>
<circle cx="218.8" cy="1112.5" r="2.1" fill="#8A8A8A" opacity="0.11"/>
<circle cx="252.4" cy="1103.3" r="2.1" fill="#8A8A8A" opacity="0.11"/>
<circle cx="204.5" cy="1128.2" r="2.1" fill="#8A8A8A" opacity="0.11"/>
<circle cx="178.5" cy="1122.1" r="2.1" fill="#8A8A8A" opacity="0.11"/>
<circle cx="239.9" cy="1081.3" r="2.1" fill="#8A8A8A" opacity="0.11"/>
<circle cx="236.9" cy="1078.8" r="2.1" fill="#8A8A8A" opacity="0.11"/>
<circle cx="224.5" cy="1086.8" r="2.1" fill="#8A8A8A" opacity="0.11"/>
<circle cx="249.1" cy="1109.7" r="2.1" fill="#8A8A8A" opacity="0.11"/>
<circle cx="237.1" cy="1099.9" r="2.1" fill="#8A8A8A" opacity="0.11"/>
<circle cx="225.2" cy="1083.3" r="2.1" fill="#8A8A8A" opacity="0.11"/>
<circle cx="191.4" cy="1096.5" r="2.1" fill="#8A8A8A" opacity="0.11"/>
<circle cx="207.0" cy="1069.2" r="2.1" fill="#8A8A8A" opacity="0.11"/>
<circle cx="187.1" cy="1113.1" r="2.1" fill="#8A8A8A" opacity="0.11"/>
<circle cx="215.9" cy="1137.5" r="2.1" fill="#8A8A8A" opacity="0.11"/>
<circle cx="244.6" cy="1083.4" r="2.1" fill="#8A8A8A" opacity="0.11"/>
<circle cx="196.9" cy="1085.3" r="2.1" fill="#8A8A8A" opacity="0.11"/>
<circle cx="210.2" cy="1115.2" r="2.1" fill="#8A8A8A" opacity="0.11"/>
<circle cx="271.4" cy="1058.5" r="2.1" fill="#8A8A8A" opacity="0.11"/>
<circle cx="277.8" cy="1099.3" r="2.1" fill="#8A8A8A" opacity="0.11"/>
<circle cx="264.9" cy="1063.9" r="2.1" fill="#8A8A8A" opacity="0.11"/>
<circle cx="204.9" cy="1119.9" r="2.1" fill="#8A8A8A" opacity="0.11"/>
<circle cx="220.1" cy="1098.6" r="2.1" fill="#8A8A8A" opacity="0.11"/>
<circle cx="202.6" cy="1118.5" r="2.1" fill="#8A8A8A" opacity="0.11"/>
<circle cx="250.8" cy="1133.0" r="2.1" fill="#8A8A8A" opacity="0.11"/>
<circle cx="216.1" cy="1105.1" r="2.1" fill="#8A8A8A" opacity="0.11"/>
<circle cx="223.5" cy="1091.0" r="2.1" fill="#8A8A8A" opacity="0.11"/>
<circle cx="251.9" cy="1060.5" r="2.1" fill="#8A8A8A" opacity="0.11"/>
<circle cx="202.7" cy="1064.7" r="2.1" fill="#8A8A8A" opacity="0.11"/>
<circle cx="240.0" cy="1100.6" r="2.1" fill="#8A8A8A" opacity="0.11"/>
<circle cx="226.6" cy="1096.6" r="2.1" fill="#8A8A8A" opacity="0.11"/>
<circle cx="252.5" cy="1054.6" r="2.1" fill="#8A8A8A" opacity="0.11"/>
<circle cx="241.2" cy="1089.8" r="2.1" fill="#8A8A8A" opacity="0.11"/>
<circle cx="218.0" cy="1100.7" r="2.1" fill="#8A8A8A" opacity="0.11"/>
<circle cx="199.6" cy="1095.1" r="2.1" fill="#8A8A8A" opacity="0.11"/>
<circle cx="220.5" cy="1033.5" r="2.1" fill="#8A8A8A" opacity="0.11"/>
<circle cx="258.2" cy="1026.4" r="2.1" fill="#8A8A8A" opacity="0.11"/>
<circle cx="221.1" cy="1119.9" r="2.1" fill="#8A8A8A" opacity="0.11"/>
<circle cx="234.4" cy="1089.0" r="2.1" fill="#8A8A8A" opacity="0.11"/>
<circle cx="253.4" cy="1078.1" r="2.1" fill="#8A8A8A" opacity="0.11"/>
<circle cx="185.3" cy="1105.1" r="2.1" fill="#8A8A8A" opacity="0.11"/>
<circle cx="227.7" cy="1066.8" r="2.1" fill="#8A8A8A" opacity="0.11"/>
<circle cx="224.5" cy="1081.3" r="2.1" fill="#8A8A8A" opacity="0.11"/>
<circle cx="251.6" cy="1060.6" r="2.1" fill="#8A8A8A" opacity="0.11"/>
<circle cx="216.6" cy="1112.1" r="2.1" fill="#8A8A8A" opacity="0.11"/>
<circle cx="296.0" cy="1038.8" r="2.1" fill="#8A8A8A" opacity="0.11"/>
<circle cx="230.7" cy="1095.0" r="2.1" fill="#8A8A8A" opacity="0.11"/>
<circle cx="218.3" cy="1114.0" r="2.1" fill="#8A8A8A" opacity="0.11"/>
<circle cx="216.8" cy="1085.8" r="2.1" fill="#8A8A8A" opacity="0.11"/>
<circle cx="258.3" cy="1077.1" r="2.1" fill="#8A8A8A" opacity="0.11"/>
<circle cx="251.6" cy="1087.7" r="2.1" fill="#8A8A8A" opacity="0.11"/>
<circle cx="178.6" cy="1119.2" r="2.1" fill="#8A8A8A" opacity="0.11"/>
<circle cx="224.1" cy="1107.0" r="2.1" fill="#8A8A8A" opacity="0.11"/>
<circle cx="206.4" cy="1144.2" r="2.1" fill="#8A8A8A" opacity="0.11"/>
<circle cx="187.3" cy="1109.7" r="2.1" fill="#8A8A8A" opacity="0.11"/>
<circle cx="270.9" cy="1074.5" r="2.1" fill="#8A8A8A" opacity="0.11"/>
<circle cx="302.8" cy="1056.2" r="2.1" fill="#8A8A8A" opacity="0.11"/>
<circle cx="302.1" cy="1035.1" r="2.1" fill="#8A8A8A" opacity="0.11"/>
<circle cx="219.8" cy="1095.4" r="2.1" fill="#8A8A8A" opacity="0.11"/>
<circle cx="209.6" cy="1142.9" r="2.1" fill="#8A8A8A" opacity="0.11"/>
<circle cx="214.0" cy="1121.7" r="2.1" fill="#8A8A8A" opacity="0.11"/>
<circle cx="204.1" cy="1062.7" r="2.1" fill="#8A8A8A" opacity="0.11"/>
<circle cx="223.6" cy="1147.3" r="2.1" fill="#8A8A8A" opacity="0.11"/>
<circle cx="193.6" cy="1097.1" r="2.1" fill="#8A8A8A" opacity="0.11"/>
<circle cx="232.4" cy="1087.6" r="2.1" fill="#8A8A8A" opacity="0.11"/>
<circle cx="177.3" cy="1083.3" r="2.1" fill="#8A8A8A" opacity="0.11"/>
<circle cx="235.1" cy="1082.7" r="2.1" fill="#8A8A8A" opacity="0.11"/>
<circle cx="235.7" cy="1105.2" r="2.1" fill="#8A8A8A" opacity="0.11"/>
<circle cx="220.5" cy="1059.6" r="2.1" fill="#8A8A8A" opacity="0.11"/>
<circle cx="244.3" cy="1094.1" r="2.1" fill="#8A8A8A" opacity="0.11"/>
<circle cx="223.4" cy="1104.9" r="2.1" fill="#8A8A8A" opacity="0.11"/>
<circle cx="233.9" cy="1089.6" r="2.1" fill="#8A8A8A" opacity="0.11"/>
<circle cx="235.0" cy="1093.1" r="2.1" fill="#8A8A8A" opacity="0.11"/>
<circle cx="222.5" cy="1065.2" r="2.1" fill="#8A8A8A" opacity="0.11"/>
<circle cx="284.1" cy="1049.5" r="2.1" fill="#8A8A8A" opacity="0.11"/>
<circle cx="240.7" cy="1121.7" r="2.1" fill="#8A8A8A" opacity="0.11"/>
<circle cx="249.4" cy="1080.1" r="2.1" fill="#8A8A8A" opacity="0.11"/>
<circle cx="290.2" cy="1045.7" r="2.1" fill="#8A8A8A" opacity="0.11"/>
<circle cx="208.7" cy="1119.3" r="2.1" fill="#8A8A8A" opacity="0.11"/>
<circle cx="287.8" cy="1045.3" r="2.1" fill="#8A8A8A" opacity="0.11"/>
<circle cx="291.5" cy="1120.3" r="2.1" fill="#8A8A8A" opacity="0.11"/>
<circle cx="292.4" cy="1048.1" r="2.1" fill="#8A8A8A" opacity="0.11"/>
<circle cx="193.8" cy="1077.7" r="2.1" fill="#8A8A8A" opacity="0.11"/>
<circle cx="217.7" cy="1107.5" r="2.1" fill="#8A8A8A" opacity="0.11"/>
<circle cx="221.6" cy="1145.6" r="2.1" fill="#8A8A8A" opacity="0.11"/>
<circle cx="203.1" cy="1087.1" r="2.1" fill="#8A8A8A" opacity="0.11"/>
<circle cx="263.1" cy="1062.7" r="2.1" fill="#8A8A8A" opacity="0.11"/>
<circle cx="251.6" cy="1045.6" r="2.1" fill="#8A8A8A" opacity="0.11"/>
<circle cx="211.2" cy="1114.3" r="2.1" fill="#8A8A8A" opacity="0.11"/>
<circle cx="215.5" cy="1084.9" r="2.1" fill="#8A8A8A" opacity="0.11"/>
<circle cx="241.0" cy="1114.4" r="2.1" fill="#8A8A8A" opacity="0.11"/>
<circle cx="279.4" cy="1140.0" r="2.1" fill="#8A8A8A" opacity="0.11"/>
<circle cx="229.9" cy="1129.1" r="2.1" fill="#8A8A8A" opacity="0.11"/>
<circle cx="188.1" cy="1081.1" r="2.1" fill="#8A8A8A" opacity="0.11"/>
<circle cx="234.6" cy="1102.6" r="2.1" fill="#8A8A8A" opacity="0.11"/>
<circle cx="252.0" cy="1080.1" r="2.1" fill="#8A8A8A" opacity="0.11"/>
<circle cx="234.9" cy="1082.8" r="2.1" fill="#8A8A8A" opacity="0.11"/>
<circle cx="201.8" cy="1085.8" r="2.1" fill="#8A8A8A" opacity="0.11"/>
<circle cx="222.6" cy="1104.6" r="2.1" fill="#8A8A8A" opacity="0.11"/>
<circle cx="245.2" cy="1120.4" r="2.1" fill="#8A8A8A" opacity="0.11"/>
<circle cx="213.0" cy="1123.3" r="2.1" fill="#8A8A8A" opacity="0.11"/>
<circle cx="211.4" cy="1106.1" r="2.1" fill="#8A8A8A" opacity="0.11"/>
<circle cx="210.3" cy="1121.9" r="2.1" fill="#8A8A8A" opacity="0.11"/>
<circle cx="221.4" cy="1108.5" r="2.1" fill="#8A8A8A" opacity="0.11"/>
<circle cx="227.2" cy="1076.2" r="2.1" fill="#8A8A8A" opacity="0.11"/>
<circle cx="220.8" cy="1131.2" r="2.1" fill="#8A8A8A" opacity="0.11"/>
<circle cx="206.6" cy="1107.8" r="2.1" fill="#8A8A8A" opacity="0.11"/>
<circle cx="233.0" cy="1106.8" r="2.1" fill="#8A8A8A" opacity="0.11"/>
<circle cx="228.0" cy="1108.5" r="2.1" fill="#8A8A8A" opacity="0.11"/>
<circle cx="235.1" cy="1079.9" r="2.1" fill="#8A8A8A" opacity="0.11"/>
<circle cx="223.1" cy="1153.3" r="2.1" fill="#8A8A8A" opacity="0.11"/>
<circle cx="204.1" cy="1136.7" r="2.1" fill="#8A8A8A" opacity="0.11"/>
<circle cx="235.3" cy="1096.0" r="2.1" fill="#8A8A8A" opacity="0.11"/>
<circle cx="244.1" cy="1087.7" r="2.1" fill="#8A8A8A" opacity="0.11"/>
<circle cx="254.2" cy="1059.0" r="2.1" fill="#8A8A8A" opacity="0.11"/>
<circle cx="241.0" cy="1134.7" r="2.1" fill="#8A8A8A" opacity="0.11"/>
<circle cx="203.5" cy="1066.9" r="2.1" fill="#8A8A8A" opacity="0.11"/>
<circle cx="241.6" cy="1107.3" r="2.1" fill="#8A8A8A" opacity="0.11"/>
<circle cx="217.9" cy="1082.2" r="2.1" fill="#8A8A8A" opacity="0.11"/>
<circle cx="227.6" cy="1111.4" r="2.1" fill="#8A8A8A" opacity="0.11"/>
<circle cx="217.7" cy="1124.7" r="2.1" fill="#8A8A8A" opacity="0.11"/>
<circle cx="246.4" cy="1087.8" r="2.1" fill="#8A8A8A" opacity="0.11"/>
<circle cx="193.2" cy="1119.5" r="2.1" fill="#8A8A8A" opacity="0.11"/>
<circle cx="271.4" cy="1100.3" r="2.1" fill="#8A8A8A" opacity="0.11"/>
<circle cx="190.8" cy="1114.4" r="2.1" fill="#8A8A8A" opacity="0.11"/>
<circle cx="197.1" cy="1079.6" r="2.1" fill="#8A8A8A" opacity="0.11"/>
<circle cx="265.1" cy="1058.2" r="2.1" fill="#8A8A8A" opacity="0.11"/>
<circle cx="208.0" cy="1138.9" r="2.1" fill="#8A8A8A" opacity="0.11"/>
<circle cx="241.6" cy="1080.4" r="2.1" fill="#8A8A8A" opacity="0.11"/>
<circle cx="215.9" cy="1110.1" r="2.1" fill="#8A8A8A" opacity="0.11"/>
<circle cx="238.2" cy="1075.3" r="2.1" fill="#8A8A8A" opacity="0.11"/>
<circle cx="222.2" cy="1095.2" r="2.1" fill="#8A8A8A" opacity="0.11"/>
<circle cx="233.9" cy="1093.8" r="2.1" fill="#8A8A8A" opacity="0.11"/>
<circle cx="231.1" cy="1134.4" r="2.1" fill="#8A8A8A" opacity="0.11"/>
<circle cx="227.1" cy="1114.4" r="2.1" fill="#8A8A8A" opacity="0.11"/>
<circle cx="205.0" cy="1092.2" r="2.1" fill="#8A8A8A" opacity="0.11"/>
<circle cx="224.4" cy="1076.6" r="2.1" fill="#8A8A8A" opacity="0.11"/>
<circle cx="213.2" cy="1114.5" r="2.1" fill="#8A8A8A" opacity="0.11"/>
<circle cx="230.0" cy="1085.4" r="2.1" fill="#8A8A8A" opacity="0.11"/>
<circle cx="195.3" cy="1123.6" r="2.1" fill="#8A8A8A" opacity="0.11"/>
<circle cx="306.2" cy="1018.1" r="2.1" fill="#8A8A8A" opacity="0.11"/>
<circle cx="201.7" cy="1024.9" r="2.1" fill="#8A8A8A" opacity="0.11"/>
<circle cx="207.4" cy="1126.3" r="2.1" fill="#8A8A8A" opacity="0.11"/>
<circle cx="228.8" cy="1116.4" r="2.1" fill="#8A8A8A" opacity="0.11"/>
<circle cx="206.4" cy="1150.8" r="2.1" fill="#8A8A8A" opacity="0.11"/>
<circle cx="207.9" cy="1107.0" r="2.1" fill="#8A8A8A" opacity="0.11"/>
<circle cx="233.1" cy="1099.6" r="2.1" fill="#8A8A8A" opacity="0.11"/>
<circle cx="204.9" cy="1126.8" r="2.1" fill="#8A8A8A" opacity="0.11"/>
<circle cx="216.5" cy="1115.3" r="2.1" fill="#8A8A8A" opacity="0.11"/>
<circle cx="192.2" cy="1061.3" r="2.1" fill="#8A8A8A" opacity="0.11"/>
<circle cx="247.6" cy="1127.2" r="2.1" fill="#8A8A8A" opacity="0.11"/>
<circle cx="242.5" cy="1107.0" r="2.1" fill="#8A8A8A" opacity="0.11"/>
<circle cx="266.6" cy="1085.9" r="2.1" fill="#8A8A8A" opacity="0.11"/>
<circle cx="271.5" cy="1095.2" r="2.1" fill="#8A8A8A" opacity="0.11"/>
<circle cx="283.5" cy="1069.3" r="2.1" fill="#8A8A8A" opacity="0.11"/>
<circle cx="225.4" cy="1103.8" r="2.1" fill="#8A8A8A" opacity="0.11"/>
<circle cx="230.2" cy="1099.6" r="2.1" fill="#8A8A8A" opacity="0.11"/>
<circle cx="195.0" cy="1120.9" r="2.1" fill="#8A8A8A" opacity="0.11"/>
<circle cx="278.6" cy="1097.8" r="2.1" fill="#8A8A8A" opacity="0.11"/>
<circle cx="243.7" cy="1096.2" r="2.1" fill="#8A8A8A" opacity="0.11"/>
<circle cx="248.3" cy="1083.4" r="2.1" fill="#8A8A8A" opacity="0.11"/>
<circle cx="272.3" cy="1099.9" r="2.1" fill="#8A8A8A" opacity="0.11"/>
<circle cx="234.3" cy="1116.4" r="2.1" fill="#8A8A8A" opacity="0.11"/>
<circle cx="252.6" cy="1144.3" r="2.1" fill="#8A8A8A" opacity="0.11"/>
<circle cx="229.6" cy="1083.1" r="2.1" fill="#8A8A8A" opacity="0.11"/>
<circle cx="225.7" cy="1120.3" r="2.1" fill="#8A8A8A" opacity="0.11"/>
<circle cx="288.8" cy="1056.3" r="2.1" fill="#8A8A8A" opacity="0.11"/>
<circle cx="243.5" cy="1086.7" r="2.1" fill="#8A8A8A" opacity="0.11"/>
<circle cx="246.1" cy="1090.7" r="2.1" fill="#8A8A8A" opacity="0.11"/>
<circle cx="204.1" cy="1143.8" r="2.1" fill="#8A8A8A" opacity="0.11"/>
<circle cx="268.6" cy="1075.3" r="2.1" fill="#8A8A8A" opacity="0.11"/>
<circle cx="221.9" cy="1140.6" r="2.1" fill="#8A8A8A" opacity="0.11"/>
<circle cx="255.2" cy="1067.3" r="2.1" fill="#8A8A8A" opacity="0.11"/>
<circle cx="210.8" cy="1069.8" r="2.1" fill="#8A8A8A" opacity="0.11"/>
<circle cx="227.6" cy="1098.2" r="2.1" fill="#8A8A8A" opacity="0.11"/>
<circle cx="180.7" cy="1076.3" r="2.1" fill="#8A8A8A" opacity="0.11"/>
<circle cx="266.3" cy="1058.0" r="2.1" fill="#8A8A8A" opacity="0.11"/>
<circle cx="240.9" cy="1076.2" r="2.1" fill="#8A8A8A" opacity="0.11"/>
<circle cx="205.2" cy="1123.1" r="2.1" fill="#8A8A8A" opacity="0.11"/>
<circle cx="213.1" cy="1137.0" r="2.1" fill="#8A8A8A" opacity="0.11"/>
<circle cx="211.5" cy="1122.3" r="2.1" fill="#8A8A8A" opacity="0.11"/>
<circle cx="226.0" cy="1138.9" r="2.1" fill="#8A8A8A" opacity="0.11"/>
<circle cx="252.8" cy="1106.8" r="2.1" fill="#8A8A8A" opacity="0.11"/>
<circle cx="205.7" cy="1125.5" r="2.1" fill="#8A8A8A" opacity="0.11"/>
<circle cx="197.8" cy="1115.7" r="2.1" fill="#8A8A8A" opacity="0.11"/>
<circle cx="237.4" cy="1109.8" r="2.1" fill="#8A8A8A" opacity="0.11"/>
<circle cx="188.1" cy="1051.4" r="2.1" fill="#8A8A8A" opacity="0.11"/>
<circle cx="203.0" cy="1110.2" r="2.1" fill="#8A8A8A" opacity="0.11"/>
<circle cx="211.2" cy="1116.3" r="2.1" fill="#8A8A8A" opacity="0.11"/>
<circle cx="227.4" cy="1085.6" r="2.1" fill="#8A8A8A" opacity="0.11"/>
<circle cx="178.6" cy="1116.5" r="2.1" fill="#8A8A8A" opacity="0.11"/>
<circle cx="233.8" cy="1086.6" r="2.1" fill="#8A8A8A" opacity="0.11"/>
<circle cx="227.7" cy="1087.6" r="2.1" fill="#8A8A8A" opacity="0.11"/>
<circle cx="213.3" cy="1109.9" r="2.1" fill="#8A8A8A" opacity="0.11"/>
<circle cx="236.8" cy="1093.8" r="2.1" fill="#8A8A8A" opacity="0.11"/>
<circle cx="232.4" cy="1098.1" r="2.1" fill="#8A8A8A" opacity="0.11"/>
<circle cx="233.9" cy="1088.1" r="2.1" fill="#8A8A8A" opacity="0.11"/>
<circle cx="228.2" cy="1101.9" r="2.1" fill="#8A8A8A" opacity="0.11"/>
<circle cx="205.0" cy="1132.2" r="2.1" fill="#8A8A8A" opacity="0.11"/>
<circle cx="236.8" cy="1101.2" r="2.1" fill="#8A8A8A" opacity="0.11"/>
<circle cx="234.5" cy="1092.1" r="2.1" fill="#8A8A8A" opacity="0.11"/>
<circle cx="224.0" cy="1069.3" r="2.1" fill="#8A8A8A" opacity="0.11"/>
<circle cx="250.6" cy="1100.8" r="2.1" fill="#8A8A8A" opacity="0.11"/>
<circle cx="230.6" cy="1115.9" r="2.1" fill="#8A8A8A" opacity="0.11"/>
<circle cx="237.1" cy="1103.8" r="2.1" fill="#8A8A8A" opacity="0.11"/>
<circle cx="260.7" cy="1127.6" r="2.1" fill="#8A8A8A" opacity="0.11"/>
<circle cx="284.3" cy="1107.4" r="2.1" fill="#8A8A8A" opacity="0.11"/>
<circle cx="225.5" cy="1103.2" r="2.1" fill="#8A8A8A" opacity="0.11"/>
<circle cx="217.0" cy="1109.6" r="2.1" fill="#8A8A8A" opacity="0.11"/>
<circle cx="218.1" cy="1114.4" r="2.1" fill="#8A8A8A" opacity="0.11"/>
<circle cx="239.9" cy="1077.9" r="2.1" fill="#8A8A8A" opacity="0.11"/>
<circle cx="287.4" cy="1070.1" r="2.1" fill="#8A8A8A" opacity="0.11"/>
<circle cx="257.9" cy="1113.6" r="2.1" fill="#8A8A8A" opacity="0.11"/>
<circle cx="257.5" cy="1068.0" r="2.1" fill="#8A8A8A" opacity="0.11"/>
<circle cx="266.3" cy="1129.1" r="2.1" fill="#8A8A8A" opacity="0.11"/>
<circle cx="218.7" cy="1138.7" r="2.1" fill="#8A8A8A" opacity="0.11"/>
<circle cx="218.5" cy="1116.6" r="2.1" fill="#8A8A8A" opacity="0.11"/>
<circle cx="277.2" cy="1109.1" r="2.1" fill="#8A8A8A" opacity="0.11"/>
<circle cx="258.4" cy="1075.9" r="2.1" fill="#8A8A8A" opacity="0.11"/>
<circle cx="217.8" cy="1109.9" r="2.1" fill="#8A8A8A" opacity="0.11"/>
<circle cx="231.9" cy="1080.7" r="2.1" fill="#8A8A8A" opacity="0.11"/>
<circle cx="258.6" cy="1143.7" r="2.1" fill="#8A8A8A" opacity="0.11"/>
<circle cx="226.6" cy="1113.8" r="2.1" fill="#8A8A8A" opacity="0.11"/>
<circle cx="216.0" cy="1067.7" r="2.1" fill="#8A8A8A" opacity="0.11"/>
<circle cx="229.7" cy="1079.9" r="2.1" fill="#8A8A8A" opacity="0.11"/>
<circle cx="214.2" cy="1085.5" r="2.1" fill="#8A8A8A" opacity="0.11"/>
<circle cx="223.2" cy="1115.6" r="2.1" fill="#8A8A8A" opacity="0.11"/>
<circle cx="205.6" cy="1099.9" r="2.1" fill="#8A8A8A" opacity="0.11"/>
<circle cx="268.4" cy="1032.9" r="2.1" fill="#8A8A8A" opacity="0.11"/>
<circle cx="225.1" cy="1110.0" r="2.1" fill="#8A8A8A" opacity="0.11"/>
<circle cx="229.5" cy="1099.2" r="2.1" fill="#8A8A8A" opacity="0.11"/>
<circle cx="208.0" cy="1121.0" r="2.1" fill="#8A8A8A" opacity="0.11"/>
<circle cx="227.1" cy="1070.0" r="2.1" fill="#8A8A8A" opacity="0.11"/>
<circle cx="207.6" cy="1102.2" r="2.1" fill="#8A8A8A" opacity="0.11"/>
<circle cx="249.0" cy="1073.8" r="2.1" fill="#8A8A8A" opacity="0.11"/>
<circle cx="230.0" cy="1096.8" r="2.1" fill="#8A8A8A" opacity="0.11"/>
<circle cx="250.2" cy="1056.6" r="2.1" fill="#8A8A8A" opacity="0.11"/>
<circle cx="200.6" cy="1059.9" r="2.1" fill="#8A8A8A" opacity="0.11"/>
<circle cx="172.5" cy="1108.6" r="2.1" fill="#8A8A8A" opacity="0.11"/>
<circle cx="242.9" cy="1079.1" r="2.1" fill="#8A8A8A" opacity="0.11"/>
<circle cx="209.5" cy="1054.8" r="2.1" fill="#8A8A8A" opacity="0.11"/>
<circle cx="221.1" cy="1074.0" r="2.1" fill="#8A8A8A" opacity="0.11"/>
<circle cx="280.6" cy="1060.1" r="2.1" fill="#8A8A8A" opacity="0.11"/>
<circle cx="215.7" cy="1113.3" r="2.1" fill="#8A8A8A" opacity="0.11"/>
<circle cx="242.6" cy="1097.3" r="2.1" fill="#8A8A8A" opacity="0.11"/>
<circle cx="248.2" cy="1071.5" r="2.1" fill="#8A8A8A" opacity="0.11"/>
<circle cx="221.2" cy="1102.7" r="2.1" fill="#8A8A8A" opacity="0.11"/>
<circle cx="216.1" cy="1123.1" r="2.1" fill="#8A8A8A" opacity="0.11"/>
<circle cx="176.5" cy="1110.8" r="2.1" fill="#8A8A8A" opacity="0.11"/>
<circle cx="242.9" cy="1086.3" r="2.1" fill="#8A8A8A" opacity="0.11"/>
<circle cx="212.4" cy="1109.8" r="2.1" fill="#8A8A8A" opacity="0.11"/>
<circle cx="210.1" cy="1088.8" r="2.1" fill="#8A8A8A" opacity="0.11"/>
<circle cx="208.9" cy="1117.4" r="2.1" fill="#8A8A8A" opacity="0.11"/>
<circle cx="244.3" cy="1091.9" r="2.1" fill="#8A8A8A" opacity="0.11"/>
<circle cx="242.1" cy="1090.3" r="2.1" fill="#8A8A8A" opacity="0.11"/>
<circle cx="219.2" cy="1156.0" r="2.1" fill="#8A8A8A" opacity="0.11"/>
<circle cx="266.8" cy="1079.2" r="2.1" fill="#8A8A8A" opacity="0.11"/>
<circle cx="244.1" cy="1052.5" r="2.1" fill="#8A8A8A" opacity="0.11"/>
<circle cx="231.0" cy="1095.2" r="2.1" fill="#8A8A8A" opacity="0.11"/>
<circle cx="215.9" cy="1120.0" r="2.1" fill="#8A8A8A" opacity="0.11"/>
<circle cx="275.1" cy="1119.7" r="2.1" fill="#8A8A8A" opacity="0.11"/>
<circle cx="190.9" cy="1114.3" r="2.1" fill="#8A8A8A" opacity="0.11"/>
<circle cx="225.0" cy="1055.4" r="2.1" fill="#8A8A8A" opacity="0.11"/>
<circle cx="230.3" cy="1105.7" r="2.1" fill="#8A8A8A" opacity="0.11"/>
<circle cx="246.0" cy="1110.0" r="2.1" fill="#8A8A8A" opacity="0.11"/>
<circle cx="254.3" cy="1111.7" r="2.1" fill="#8A8A8A" opacity="0.11"/>
<circle cx="206.2" cy="1123.0" r="2.1" fill="#8A8A8A" opacity="0.11"/>
<circle cx="236.1" cy="1084.0" r="2.1" fill="#8A8A8A" opacity="0.11"/>
<circle cx="296.0" cy="1082.1" r="2.1" fill="#8A8A8A" opacity="0.11"/>
<circle cx="235.4" cy="1066.8" r="2.1" fill="#8A8A8A" opacity="0.11"/>
<circle cx="197.6" cy="1116.1" r="2.1" fill="#8A8A8A" opacity="0.11"/>
<circle cx="233.1" cy="1101.0" r="2.1" fill="#8A8A8A" opacity="0.11"/>
<circle cx="242.5" cy="1089.2" r="2.1" fill="#8A8A8A" opacity="0.11"/>
<circle cx="181.1" cy="1076.5" r="2.1" fill="#8A8A8A" opacity="0.11"/>
<circle cx="224.8" cy="1153.8" r="2.1" fill="#8A8A8A" opacity="0.11"/>
<circle cx="218.1" cy="1099.8" r="2.1" fill="#8A8A8A" opacity="0.11"/>
<circle cx="226.3" cy="1109.6" r="2.1" fill="#8A8A8A" opacity="0.11"/>
<circle cx="287.3" cy="1029.2" r="2.1" fill="#8A8A8A" opacity="0.11"/>
<circle cx="183.2" cy="1114.0" r="2.1" fill="#8A8A8A" opacity="0.11"/>
<circle cx="231.4" cy="1093.9" r="2.1" fill="#8A8A8A" opacity="0.11"/>
<circle cx="236.1" cy="1081.9" r="2.1" fill="#8A8A8A" opacity="0.11"/>
<circle cx="235.3" cy="1095.5" r="2.1" fill="#8A8A8A" opacity="0.11"/>
<circle cx="209.1" cy="1116.8" r="2.1" fill="#8A8A8A" opacity="0.11"/>
<circle cx="233.3" cy="1088.6" r="2.1" fill="#8A8A8A" opacity="0.11"/>
<circle cx="213.8" cy="1077.4" r="2.1" fill="#8A8A8A" opacity="0.11"/>
<circle cx="226.3" cy="1111.9" r="2.1" fill="#8A8A8A" opacity="0.11"/>
<circle cx="223.6" cy="1103.7" r="2.1" fill="#8A8A8A" opacity="0.11"/>
<circle cx="205.1" cy="1130.1" r="2.1" fill="#8A8A8A" opacity="0.11"/>
<circle cx="269.5" cy="1055.2" r="2.1" fill="#8A8A8A" opacity="0.11"/>
<circle cx="222.7" cy="1072.8" r="2.1" fill="#8A8A8A" opacity="0.11"/>
<circle cx="212.9" cy="1102.1" r="2.1" fill="#8A8A8A" opacity="0.11"/>
<circle cx="242.2" cy="1042.1" r="2.1" fill="#8A8A8A" opacity="0.11"/>
<circle cx="239.0" cy="1082.1" r="2.1" fill="#8A8A8A" opacity="0.11"/>
<circle cx="272.4" cy="1071.4" r="2.1" fill="#8A8A8A" opacity="0.11"/>
<circle cx="209.0" cy="1151.8" r="2.1" fill="#8A8A8A" opacity="0.11"/>
<circle cx="190.9" cy="1113.9" r="2.1" fill="#8A8A8A" opacity="0.11"/>
<circle cx="221.7" cy="1122.3" r="2.1" fill="#8A8A8A" opacity="0.11"/>
<circle cx="238.8" cy="1094.6" r="2.1" fill="#8A8A8A" opacity="0.11"/>
<circle cx="243.1" cy="1084.3" r="2.1" fill="#8A8A8A" opacity="0.11"/>
<circle cx="311.5" cy="1097.6" r="2.1" fill="#8A8A8A" opacity="0.11"/>
<circle cx="248.4" cy="1138.7" r="2.1" fill="#8A8A8A" opacity="0.11"/>
<circle cx="240.3" cy="1108.3" r="2.1" fill="#8A8A8A" opacity="0.11"/>
<circle cx="238.9" cy="1044.3" r="2.1" fill="#8A8A8A" opacity="0.11"/>
<circle cx="219.8" cy="1109.9" r="2.1" fill="#8A8A8A" opacity="0.11"/>
<circle cx="204.3" cy="1093.2" r="2.1" fill="#8A8A8A" opacity="0.11"/>
<circle cx="226.4" cy="1072.4" r="2.1" fill="#8A8A8A" opacity="0.11"/>
<circle cx="250.8" cy="1082.8" r="2.1" fill="#8A8A8A" opacity="0.11"/>
<circle cx="227.0" cy="1098.2" r="2.1" fill="#8A8A8A" opacity="0.11"/>
<circle cx="233.0" cy="1069.5" r="2.1" fill="#8A8A8A" opacity="0.11"/>
<circle cx="213.3" cy="1098.0" r="2.1" fill="#8A8A8A" opacity="0.11"/>
<circle cx="238.9" cy="1111.5" r="2.1" fill="#8A8A8A" opacity="0.11"/>
<circle cx="255.8" cy="1075.9" r="2.1" fill="#8A8A8A" opacity="0.11"/>
<circle cx="270.6" cy="1056.4" r="2.1" fill="#8A8A8A" opacity="0.11"/>
<circle cx="257.4" cy="1076.6" r="2.1" fill="#8A8A8A" opacity="0.11"/>
<circle cx="253.3" cy="1082.5" r="2.1" fill="#8A8A8A" opacity="0.11"/>
<circle cx="214.0" cy="1116.5" r="2.1" fill="#8A8A8A" opacity="0.11"/>
<circle cx="300.3" cy="1031.1" r="2.1" fill="#8A8A8A" opacity="0.11"/>
<circle cx="251.5" cy="1073.9" r="2.1" fill="#8A8A8A" opacity="0.11"/>
<circle cx="244.7" cy="1079.7" r="2.1" fill="#8A8A8A" opacity="0.11"/>
<circle cx="192.1" cy="1043.5" r="2.1" fill="#8A8A8A" opacity="0.11"/>
<circle cx="209.9" cy="1095.6" r="2.1" fill="#8A8A8A" opacity="0.11"/>
<circle cx="244.8" cy="1076.8" r="2.1" fill="#8A8A8A" opacity="0.11"/>
<circle cx="210.4" cy="1063.9" r="2.1" fill="#8A8A8A" opacity="0.11"/>
<circle cx="218.7" cy="1100.1" r="2.1" fill="#8A8A8A" opacity="0.11"/>
<circle cx="220.7" cy="1106.8" r="2.1" fill="#8A8A8A" opacity="0.11"/>
<circle cx="241.8" cy="1073.9" r="2.1" fill="#8A8A8A" opacity="0.11"/>
<circle cx="220.2" cy="1094.1" r="2.1" fill="#8A8A8A" opacity="0.11"/>
<circle cx="260.0" cy="1102.1" r="2.1" fill="#8A8A8A" opacity="0.11"/>
<circle cx="248.2" cy="1065.3" r="2.1" fill="#8A8A8A" opacity="0.11"/>
<circle cx="221.9" cy="1109.1" r="2.1" fill="#8A8A8A" opacity="0.11"/>
<circle cx="225.0" cy="1095.9" r="2.1" fill="#8A8A8A" opacity="0.11"/>
<circle cx="280.5" cy="1061.7" r="2.1" fill="#8A8A8A" opacity="0.11"/>
<circle cx="218.3" cy="1063.8" r="2.1" fill="#8A8A8A" opacity="0.11"/>
<circle cx="242.3" cy="1072.4" r="2.1" fill="#8A8A8A" opacity="0.11"/>
<circle cx="197.8" cy="1120.7" r="2.1" fill="#8A8A8A" opacity="0.11"/>
<circle cx="224.7" cy="1113.5" r="2.1" fill="#8A8A8A" opacity="0.11"/>
<circle cx="251.1" cy="1069.6" r="2.1" fill="#8A8A8A" opacity="0.11"/>
<circle cx="245.2" cy="1035.1" r="2.1" fill="#8A8A8A" opacity="0.11"/>
<circle cx="244.3" cy="1096.7" r="2.1" fill="#8A8A8A" opacity="0.11"/>
<circle cx="263.9" cy="1059.9" r="2.1" fill="#8A8A8A" opacity="0.11"/>
<circle cx="213.7" cy="1134.2" r="2.1" fill="#8A8A8A" opacity="0.11"/>
<circle cx="205.4" cy="1114.0" r="2.1" fill="#8A8A8A" opacity="0.11"/>
<circle cx="242.1" cy="1083.5" r="2.1" fill="#8A8A8A" opacity="0.11"/>
<circle cx="176.9" cy="1110.9" r="2.1" fill="#8A8A8A" opacity="0.11"/>
<circle cx="238.9" cy="1103.8" r="2.1" fill="#8A8A8A" opacity="0.11"/>
<circle cx="207.3" cy="1141.5" r="2.1" fill="#8A8A8A" opacity="0.11"/>
<circle cx="181.6" cy="1102.6" r="2.1" fill="#8A8A8A" opacity="0.11"/>
<circle cx="241.3" cy="1071.2" r="2.1" fill="#8A8A8A" opacity="0.11"/>
<circle cx="183.7" cy="1120.1" r="2.1" fill="#8A8A8A" opacity="0.11"/>
<circle cx="233.8" cy="1080.1" r="2.1" fill="#8A8A8A" opacity="0.11"/>
<circle cx="184.2" cy="1104.9" r="2.1" fill="#8A8A8A" opacity="0.11"/>
<circle cx="276.0" cy="1044.3" r="2.1" fill="#8A8A8A" opacity="0.11"/>
<circle cx="232.1" cy="1114.7" r="2.1" fill="#8A8A8A" opacity="0.11"/>
<circle cx="188.9" cy="1101.1" r="2.1" fill="#8A8A8A" opacity="0.11"/>
<circle cx="221.2" cy="1106.6" r="2.1" fill="#8A8A8A" opacity="0.11"/>
<circle cx="203.0" cy="1090.1" r="2.1" fill="#8A8A8A" opacity="0.11"/>
<circle cx="279.5" cy="1080.5" r="2.1" fill="#8A8A8A" opacity="0.11"/>
<circle cx="218.6" cy="1105.6" r="2.1" fill="#8A8A8A" opacity="0.11"/>
<circle cx="213.4" cy="1086.3" r="2.1" fill="#8A8A8A" opacity="0.11"/>
<circle cx="201.4" cy="1122.5" r="2.1" fill="#8A8A8A" opacity="0.11"/>
<circle cx="248.5" cy="1081.5" r="2.1" fill="#8A8A8A" opacity="0.11"/>
<circle cx="250.7" cy="1131.3" r="2.1" fill="#8A8A8A" opacity="0.11"/>
<circle cx="207.6" cy="1113.6" r="2.1" fill="#8A8A8A" opacity="0.11"/>
<circle cx="236.6" cy="1140.1" r="2.1" fill="#8A8A8A" opacity="0.11"/>
<circle cx="263.8" cy="1084.8" r="2.1" fill="#8A8A8A" opacity="0.11"/>
<circle cx="189.8" cy="1099.6" r="2.1" fill="#8A8A8A" opacity="0.11"/>
<circle cx="220.8" cy="1101.2" r="2.1" fill="#8A8A8A" opacity="0.11"/>
<circle cx="253.0" cy="1073.8" r="2.1" fill="#8A8A8A" opacity="0.11"/>
<circle cx="185.5" cy="1118.3" r="2.1" fill="#8A8A8A" opacity="0.11"/>
<circle cx="230.5" cy="1119.9" r="2.1" fill="#8A8A8A" opacity="0.11"/>
<circle cx="249.0" cy="1077.0" r="2.1" fill="#8A8A8A" opacity="0.11"/>
<circle cx="226.7" cy="1101.4" r="2.1" fill="#8A8A8A" opacity="0.11"/>
<circle cx="195.0" cy="1101.3" r="2.1" fill="#8A8A8A" opacity="0.11"/>
<circle cx="275.8" cy="1051.6" r="2.1" fill="#8A8A8A" opacity="0.11"/>
<circle cx="258.1" cy="1078.2" r="2.1" fill="#8A8A8A" opacity="0.11"/>
<circle cx="193.6" cy="1092.0" r="2.1" fill="#8A8A8A" opacity="0.11"/>
<circle cx="238.8" cy="1084.8" r="2.1" fill="#8A8A8A" opacity="0.11"/>
<circle cx="207.1" cy="1142.3" r="2.1" fill="#8A8A8A" opacity="0.11"/>
<circle cx="240.8" cy="1090.1" r="2.1" fill="#8A8A8A" opacity="0.11"/>
<circle cx="249.8" cy="1127.0" r="2.1" fill="#8A8A8A" opacity="0.11"/>
<circle cx="239.1" cy="1074.3" r="2.1" fill="#8A8A8A" opacity="0.11"/>
<circle cx="233.5" cy="1051.7" r="2.1" fill="#8A8A8A" opacity="0.11"/>
<circle cx="205.0" cy="1124.3" r="2.1" fill="#8A8A8A" opacity="0.11"/>
<circle cx="248.5" cy="1097.7" r="2.1" fill="#8A8A8A" opacity="0.11"/>
<circle cx="214.9" cy="1122.2" r="2.1" fill="#8A8A8A" opacity="0.11"/>
<circle cx="225.4" cy="1101.4" r="2.1" fill="#8A8A8A" opacity="0.11"/>
<circle cx="207.0" cy="1128.8" r="2.1" fill="#8A8A8A" opacity="0.11"/>
<circle cx="209.5" cy="1050.6" r="2.1" fill="#8A8A8A" opacity="0.11"/>
<circle cx="184.6" cy="1106.9" r="2.1" fill="#8A8A8A" opacity="0.11"/>
<circle cx="215.5" cy="1112.6" r="2.1" fill="#8A8A8A" opacity="0.11"/>
<circle cx="265.3" cy="1043.4" r="2.1" fill="#8A8A8A" opacity="0.11"/>
<circle cx="205.3" cy="1109.8" r="2.1" fill="#8A8A8A" opacity="0.11"/>
<circle cx="219.1" cy="1121.2" r="2.1" fill="#8A8A8A" opacity="0.11"/>
<circle cx="220.8" cy="1143.3" r="2.1" fill="#8A8A8A" opacity="0.11"/>
<circle cx="282.6" cy="1037.5" r="2.1" fill="#8A8A8A" opacity="0.11"/>
<circle cx="257.3" cy="1051.5" r="2.1" fill="#8A8A8A" opacity="0.11"/>
<circle cx="215.5" cy="1116.8" r="2.1" fill="#8A8A8A" opacity="0.11"/>
<circle cx="207.6" cy="1144.6" r="2.1" fill="#8A8A8A" opacity="0.11"/>
<circle cx="313.3" cy="1060.0" r="2.1" fill="#8A8A8A" opacity="0.11"/>
<circle cx="239.1" cy="1083.6" r="2.1" fill="#8A8A8A" opacity="0.11"/>
<circle cx="278.6" cy="1045.3" r="2.1" fill="#8A8A8A" opacity="0.11"/>
<circle cx="233.3" cy="1069.2" r="2.1" fill="#8A8A8A" opacity="0.11"/>
<circle cx="190.2" cy="1094.6" r="2.1" fill="#8A8A8A" opacity="0.11"/>
<circle cx="212.3" cy="1120.6" r="2.1" fill="#8A8A8A" opacity="0.11"/>
<circle cx="203.6" cy="1123.0" r="2.1" fill="#8A8A8A" opacity="0.11"/>
<circle cx="244.5" cy="1078.6" r="2.1" fill="#8A8A8A" opacity="0.11"/>
<circle cx="228.5" cy="1132.0" r="2.1" fill="#8A8A8A" opacity="0.11"/>
<circle cx="204.3" cy="1134.9" r="2.1" fill="#8A8A8A" opacity="0.11"/>
<circle cx="235.9" cy="1131.8" r="2.1" fill="#8A8A8A" opacity="0.11"/>
<circle cx="218.1" cy="1116.3" r="2.1" fill="#8A8A8A" opacity="0.11"/>
<circle cx="231.9" cy="1108.2" r="2.1" fill="#8A8A8A" opacity="0.11"/>
<circle cx="226.1" cy="1091.8" r="2.1" fill="#8A8A8A" opacity="0.11"/>
<circle cx="266.6" cy="1082.2" r="2.1" fill="#8A8A8A" opacity="0.11"/>
<circle cx="207.9" cy="1123.7" r="2.1" fill="#8A8A8A" opacity="0.11"/>
<circle cx="284.2" cy="1086.4" r="2.1" fill="#8A8A8A" opacity="0.11"/>
<circle cx="264.3" cy="1068.8" r="2.1" fill="#8A8A8A" opacity="0.11"/>
<circle cx="208.7" cy="1133.6" r="2.1" fill="#8A8A8A" opacity="0.11"/>
<circle cx="236.2" cy="1108.7" r="2.1" fill="#8A8A8A" opacity="0.11"/>
<circle cx="239.8" cy="1093.7" r="2.1" fill="#8A8A8A" opacity="0.11"/>
<circle cx="213.0" cy="1129.1" r="2.1" fill="#8A8A8A" opacity="0.11"/>
<circle cx="234.8" cy="1092.3" r="2.1" fill="#8A8A8A" opacity="0.11"/>
<circle cx="193.1" cy="1098.5" r="2.1" fill="#8A8A8A" opacity="0.11"/>
<circle cx="285.3" cy="1050.0" r="2.1" fill="#8A8A8A" opacity="0.11"/>
<circle cx="274.2" cy="1086.6" r="2.1" fill="#8A8A8A" opacity="0.11"/>
<circle cx="263.8" cy="1061.0" r="2.1" fill="#8A8A8A" opacity="0.11"/>
<circle cx="240.6" cy="1086.5" r="2.1" fill="#8A8A8A" opacity="0.11"/>
<circle cx="215.4" cy="1106.3" r="2.1" fill="#8A8A8A" opacity="0.11"/>
<circle cx="227.2" cy="1111.6" r="2.1" fill="#8A8A8A" opacity="0.11"/>
<circle cx="235.6" cy="1097.0" r="2.1" fill="#8A8A8A" opacity="0.11"/>
<circle cx="248.7" cy="1114.0" r="2.1" fill="#8A8A8A" opacity="0.11"/>
<circle cx="222.3" cy="1127.3" r="2.1" fill="#8A8A8A" opacity="0.11"/>
<circle cx="203.3" cy="1111.1" r="2.1" fill="#8A8A8A" opacity="0.11"/>
<circle cx="200.1" cy="1079.6" r="2.1" fill="#8A8A8A" opacity="0.11"/>
<circle cx="249.0" cy="1105.9" r="2.1" fill="#8A8A8A" opacity="0.11"/>
<circle cx="234.0" cy="1096.3" r="2.1" fill="#8A8A8A" opacity="0.11"/>
<circle cx="193.6" cy="1093.4" r="2.1" fill="#8A8A8A" opacity="0.11"/>
<circle cx="196.2" cy="1123.4" r="2.1" fill="#8A8A8A" opacity="0.11"/>
<circle cx="205.3" cy="1131.3" r="2.1" fill="#8A8A8A" opacity="0.11"/>
<circle cx="212.1" cy="1093.4" r="2.1" fill="#8A8A8A" opacity="0.11"/>
<circle cx="190.6" cy="1116.6" r="2.1" fill="#8A8A8A" opacity="0.11"/>
<circle cx="218.7" cy="1104.1" r="2.1" fill="#8A8A8A" opacity="0.11"/>
<circle cx="196.5" cy="1120.4" r="2.1" fill="#8A8A8A" opacity="0.11"/>
<circle cx="301.7" cy="1019.5" r="2.1" fill="#8A8A8A" opacity="0.11"/>
<circle cx="218.1" cy="1131.8" r="2.1" fill="#8A8A8A" opacity="0.11"/>
<circle cx="251.5" cy="1067.1" r="2.1" fill="#8A8A8A" opacity="0.11"/>
<circle cx="236.0" cy="1116.3" r="2.1" fill="#8A8A8A" opacity="0.11"/>
<circle cx="198.9" cy="1109.5" r="2.1" fill="#8A8A8A" opacity="0.11"/>
<circle cx="223.4" cy="1101.9" r="2.1" fill="#8A8A8A" opacity="0.11"/>
<circle cx="252.7" cy="1071.8" r="2.1" fill="#8A8A8A" opacity="0.11"/>
<circle cx="185.7" cy="1029.8" r="2.1" fill="#8A8A8A" opacity="0.11"/>
<circle cx="231.1" cy="1102.4" r="2.1" fill="#8A8A8A" opacity="0.11"/>
<circle cx="211.3" cy="1137.0" r="2.1" fill="#8A8A8A" opacity="0.11"/>
<circle cx="235.3" cy="1090.6" r="2.1" fill="#8A8A8A" opacity="0.11"/>
<circle cx="194.8" cy="1093.4" r="2.1" fill="#8A8A8A" opacity="0.11"/>
<circle cx="221.8" cy="1103.1" r="2.1" fill="#8A8A8A" opacity="0.11"/>
<circle cx="236.5" cy="1089.0" r="2.1" fill="#8A8A8A" opacity="0.11"/>
<circle cx="217.1" cy="1111.7" r="2.1" fill="#8A8A8A" opacity="0.11"/>
<circle cx="241.4" cy="1049.3" r="2.1" fill="#8A8A8A" opacity="0.11"/>
<circle cx="231.5" cy="1071.9" r="2.1" fill="#8A8A8A" opacity="0.11"/>
<circle cx="237.5" cy="1094.2" r="2.1" fill="#8A8A8A" opacity="0.11"/>
<circle cx="235.9" cy="1090.9" r="2.1" fill="#8A8A8A" opacity="0.11"/>
<circle cx="226.3" cy="1079.3" r="2.1" fill="#8A8A8A" opacity="0.11"/>
<circle cx="236.0" cy="1122.7" r="2.1" fill="#8A8A8A" opacity="0.11"/>
<circle cx="213.7" cy="1109.5" r="2.1" fill="#8A8A8A" opacity="0.11"/>
<circle cx="246.2" cy="1066.3" r="2.1" fill="#8A8A8A" opacity="0.11"/>
<circle cx="211.6" cy="1118.6" r="2.1" fill="#8A8A8A" opacity="0.11"/>
<circle cx="238.5" cy="1101.4" r="2.1" fill="#8A8A8A" opacity="0.11"/>
<circle cx="213.1" cy="1139.3" r="2.1" fill="#8A8A8A" opacity="0.11"/>
<polygon points="173.5,1104 178,1097 186,1090 197,1085 212,1080 228,1076 242,1074 252,1076 256,1086 254,1098 249,1110 243,1124 236,1138 228,1149 215,1155.5 206,1155.5 204,1130 200,1125.5 173.5,1125" fill="#989898" opacity="0.6" filter="url(#blur3)"/>
<polygon points="174,1119.2 174,1109.8 177.3,1104.2 180.1,1100.4 183.9,1096.6 189.5,1092.8 196.1,1090 202.7,1087.2 210.3,1084.3 217.8,1082.5 225.4,1080.6 232.9,1079.6 239.5,1079.6 245.2,1082.5 247.1,1087.2 246.1,1092.8 244.2,1098.5 242.4,1104.2 239.5,1111.7 235.8,1119.2 231,1126.8 227.3,1134.3 223.5,1141.9 217.8,1148.5 210.3,1153.2 206.5,1153.2 204.6,1148.5 204.2,1139.1 203.7,1126.8 201.8,1124 188.6,1123.5 179.2,1123 174.4,1121.1" fill="#898989" filter="url(#blur1)"/>
</g>
<circle cx="295.4" cy="955.8" r="6.5" fill="#F8766D"/>
<circle cx="297.0" cy="975.8" r="6.5" fill="#F8766D"/>
<circle cx="262.7" cy="1013.6" r="6.5" fill="#F8766D"/>
<circle cx="264.8" cy="1023.8" r="6.5" fill="#F8766D"/>
<circle cx="270.9" cy="1015.6" r="6.5" fill="#F8766D"/>
<circle cx="272.9" cy="1022.8" r="6.5" fill="#F8766D"/>
<circle cx="278.0" cy="1011.6" r="6.5" fill="#F8766D"/>
<circle cx="287.2" cy="1023.8" r="6.5" fill="#F8766D"/>
<circle cx="293.4" cy="1021.8" r="6.5" fill="#F8766D"/>
<circle cx="303.6" cy="1019.7" r="6.5" fill="#F8766D"/>
<circle cx="297.5" cy="1016.0" r="6.5" fill="#F8766D"/>
<circle cx="280.3" cy="1006.0" r="6.5" fill="#F8766D"/>
<circle cx="279.1" cy="999.3" r="6.5" fill="#F8766D"/>
<circle cx="283.2" cy="991.1" r="6.5" fill="#F8766D"/>
<circle cx="291.3" cy="990.5" r="6.5" fill="#F8766D"/>
<circle cx="295.4" cy="989.1" r="6.5" fill="#F8766D"/>
<circle cx="305.6" cy="997.2" r="6.5" fill="#F8766D"/>
<circle cx="304.0" cy="1002.0" r="6.5" fill="#F8766D"/>
<circle cx="300.8" cy="994.2" r="6.5" fill="#F8766D"/>
<circle cx="285.2" cy="994.2" r="6.5" fill="#F8766D"/>
<circle cx="282.0" cy="1002.0" r="6.5" fill="#F8766D"/>
<circle cx="285.2" cy="1009.8" r="6.5" fill="#F8766D"/>
<circle cx="293.0" cy="1013.0" r="6.5" fill="#F8766D"/>
<circle cx="300.8" cy="1009.8" r="6.5" fill="#F8766D"/>
<circle cx="268.0" cy="1020.0" r="6.5" fill="#F8766D"/>
<circle cx="276.0" cy="1025.0" r="6.5" fill="#F8766D"/>
<circle cx="283.0" cy="1026.0" r="6.5" fill="#F8766D"/>
<circle cx="299.0" cy="1024.0" r="6.5" fill="#F8766D"/>
<circle cx="285.0" cy="1017.0" r="6.5" fill="#F8766D"/>
<circle cx="303.5" cy="1001.0" r="6.5" fill="#F8766D"/>
<circle cx="303.5" cy="1024.0" r="6.5" fill="#F8766D"/>
<circle cx="278.0" cy="1018.0" r="6.5" fill="#F8766D"/>
<circle cx="311.8" cy="1023.8" r="6.5" fill="#619CFF"/>
<circle cx="314.8" cy="1028.9" r="6.5" fill="#619CFF"/>
<circle cx="307.7" cy="1032.0" r="6.5" fill="#619CFF"/>
<circle cx="313.8" cy="1038.1" r="6.5" fill="#619CFF"/>
<circle cx="305.6" cy="1040.2" r="6.5" fill="#619CFF"/>
<circle cx="311.8" cy="1043.2" r="6.5" fill="#619CFF"/>
<circle cx="307.7" cy="1055.5" r="6.5" fill="#619CFF"/>
<circle cx="308.7" cy="1048.4" r="6.5" fill="#619CFF"/>
<circle cx="313.0" cy="1026.8" r="6.5" fill="#619CFF"/>
<circle cx="569.0" cy="701.0" r="6.5" fill="#00BA38"/>
<circle cx="584.5" cy="698.5" r="6.5" fill="#00BA38"/>
<circle cx="546.8" cy="725.1" r="6.5" fill="#00BA38"/>
<circle cx="613.4" cy="723.2" r="6.5" fill="#00BA38"/>
<circle cx="524.6" cy="737.7" r="6.5" fill="#00BA38"/>
<circle cx="520.7" cy="747.0" r="6.5" fill="#00BA38"/>
<circle cx="547.8" cy="743.9" r="6.5" fill="#00BA38"/>
<circle cx="560.3" cy="757.4" r="6.5" fill="#00BA38"/>
<circle cx="570.0" cy="767.2" r="6.5" fill="#00BA38"/>
<circle cx="535.2" cy="763.8" r="6.5" fill="#00BA38"/>
<circle cx="531.4" cy="774.4" r="6.5" fill="#00BA38"/>
<circle cx="527.5" cy="781.1" r="6.5" fill="#00BA38"/>
<circle cx="537.5" cy="796.6" r="6.5" fill="#00BA38"/>
<circle cx="558.8" cy="804.3" r="6.5" fill="#00BA38"/>
<circle cx="539.1" cy="814.0" r="6.5" fill="#00BA38"/>
<circle cx="437.7" cy="764.1" r="6.5" fill="#00BA38"/>
<circle cx="484.0" cy="760.5" r="6.5" fill="#00BA38"/>
<circle cx="480.2" cy="766.1" r="6.5" fill="#00BA38"/>
<circle cx="465.7" cy="775.9" r="6.5" fill="#00BA38"/>
<circle cx="498.9" cy="776.7" r="6.5" fill="#00BA38"/>
<circle cx="470.5" cy="802.0" r="6.5" fill="#00BA38"/>
<circle cx="473.4" cy="802.4" r="6.5" fill="#00BA38"/>
<circle cx="487.5" cy="806.6" r="6.5" fill="#00BA38"/>
<circle cx="455.1" cy="811.5" r="6.5" fill="#00BA38"/>
<circle cx="423.2" cy="815.9" r="6.5" fill="#00BA38"/>
<circle cx="499.5" cy="821.7" r="6.5" fill="#00BA38"/>
<circle cx="456.0" cy="826.5" r="6.5" fill="#00BA38"/>
<circle cx="467.6" cy="840.1" r="6.5" fill="#00BA38"/>
<circle cx="465.7" cy="843.9" r="6.5" fill="#00BA38"/>
<circle cx="427.0" cy="845.8" r="6.5" fill="#00BA38"/>
<circle cx="438.6" cy="844.9" r="6.5" fill="#00BA38"/>
<circle cx="445.4" cy="842.0" r="6.5" fill="#00BA38"/>
<circle cx="448.3" cy="849.3" r="6.5" fill="#00BA38"/>
<circle cx="426.1" cy="855.5" r="6.5" fill="#00BA38"/>
<circle cx="512.0" cy="841.6" r="6.5" fill="#00BA38"/>
<circle cx="535.6" cy="848.4" r="6.5" fill="#00BA38"/>
<circle cx="496.6" cy="855.5" r="6.5" fill="#00BA38"/>
<circle cx="500.4" cy="857.4" r="6.5" fill="#00BA38"/>
<circle cx="453.7" cy="863.2" r="6.5" fill="#00BA38"/>
<circle cx="480.2" cy="869.4" r="6.5" fill="#00BA38"/>
<circle cx="432.8" cy="881.0" r="6.5" fill="#00BA38"/>
<circle cx="419.3" cy="896.1" r="6.5" fill="#00BA38"/>
<circle cx="384.3" cy="746.2" r="6.5" fill="#00BA38"/>
<circle cx="376.5" cy="863.5" r="6.5" fill="#00BA38"/>
<circle cx="375.8" cy="873.3" r="6.5" fill="#00BA38"/>
<circle cx="397.5" cy="892.3" r="6.5" fill="#00BA38"/>
<circle cx="335.5" cy="900.0" r="6.5" fill="#00BA38"/>
<circle cx="366.5" cy="899.2" r="6.5" fill="#00BA38"/>
<circle cx="360.9" cy="909.5" r="6.5" fill="#00BA38"/>
<circle cx="397.2" cy="905.4" r="6.5" fill="#00BA38"/>
<circle cx="403.8" cy="906.2" r="6.5" fill="#00BA38"/>
<circle cx="422.0" cy="912.0" r="6.5" fill="#00BA38"/>
<circle cx="413.8" cy="917.0" r="6.5" fill="#00BA38"/>
<circle cx="379.1" cy="924.4" r="6.5" fill="#00BA38"/>
<circle cx="416.2" cy="931.8" r="6.5" fill="#00BA38"/>
<circle cx="306.4" cy="928.5" r="6.5" fill="#00BA38"/>
<circle cx="305.6" cy="942.6" r="6.5" fill="#00BA38"/>
<circle cx="322.9" cy="938.4" r="6.5" fill="#00BA38"/>
<circle cx="328.7" cy="948.3" r="6.5" fill="#00BA38"/>
<circle cx="333.7" cy="952.5" r="6.5" fill="#00BA38"/>
<circle cx="357.6" cy="943.4" r="6.5" fill="#00BA38"/>
<circle cx="377.4" cy="939.3" r="6.5" fill="#00BA38"/>
<circle cx="392.3" cy="936.8" r="6.5" fill="#00BA38"/>
<circle cx="377.4" cy="947.5" r="6.5" fill="#00BA38"/>
<circle cx="369.2" cy="952.5" r="6.5" fill="#00BA38"/>
<circle cx="356.0" cy="955.8" r="6.5" fill="#00BA38"/>
<circle cx="349.4" cy="960.7" r="6.5" fill="#00BA38"/>
<circle cx="344.4" cy="967.3" r="6.5" fill="#00BA38"/>
<circle cx="351.0" cy="970.6" r="6.5" fill="#00BA38"/>
<circle cx="359.3" cy="975.6" r="6.5" fill="#00BA38"/>
<circle cx="365.9" cy="972.3" r="6.5" fill="#00BA38"/>
<circle cx="309.7" cy="959.1" r="6.5" fill="#00BA38"/>
<circle cx="317.2" cy="963.2" r="6.5" fill="#00BA38"/>
<circle cx="309.7" cy="970.6" r="6.5" fill="#00BA38"/>
<circle cx="407.1" cy="964.9" r="6.5" fill="#00BA38"/>
<circle cx="415.4" cy="975.6" r="6.5" fill="#00BA38"/>
<circle cx="313.9" cy="992.1" r="6.5" fill="#00BA38"/>
<circle cx="327.9" cy="993.8" r="6.5" fill="#00BA38"/>
<circle cx="336.1" cy="1002.0" r="6.5" fill="#00BA38"/>
<circle cx="315.5" cy="1005.3" r="6.5" fill="#00BA38"/>
<circle cx="329.5" cy="1008.6" r="6.5" fill="#00BA38"/>
<circle cx="318.0" cy="1018.5" r="6.5" fill="#00BA38"/>
<circle cx="307.7" cy="944.1" r="6.5" fill="#00BA38"/>
<circle cx="311.8" cy="960.4" r="6.5" fill="#00BA38"/>
<circle cx="318.9" cy="963.5" r="6.5" fill="#00BA38"/>
<circle cx="326.1" cy="948.2" r="6.5" fill="#00BA38"/>
<circle cx="332.2" cy="953.3" r="6.5" fill="#00BA38"/>
<circle cx="346.5" cy="960.4" r="6.5" fill="#00BA38"/>
<circle cx="342.4" cy="967.6" r="6.5" fill="#00BA38"/>
<circle cx="330.2" cy="975.8" r="6.5" fill="#00BA38"/>
<circle cx="316.0" cy="980.9" r="6.5" fill="#00BA38"/>
<circle cx="322.0" cy="986.0" r="6.5" fill="#00BA38"/>
<circle cx="332.2" cy="982.9" r="6.5" fill="#00BA38"/>
<circle cx="338.4" cy="1001.3" r="6.5" fill="#00BA38"/>
<circle cx="328.1" cy="997.2" r="6.5" fill="#00BA38"/>
<circle cx="316.5" cy="993.2" r="6.5" fill="#00BA38"/>
<circle cx="316.0" cy="1005.4" r="6.5" fill="#00BA38"/>
<circle cx="327.1" cy="1009.5" r="6.5" fill="#00BA38"/>
<circle cx="316.5" cy="1017.7" r="6.5" fill="#00BA38"/>
<circle cx="322.0" cy="1019.7" r="6.5" fill="#00BA38"/>
<circle cx="182.5" cy="762.3" r="6.5" fill="#F8766D"/>
<circle cx="282.8" cy="764.7" r="6.5" fill="#F8766D"/>
<circle cx="274.0" cy="877.0" r="6.5" fill="#F8766D"/>
<circle cx="251.5" cy="1003.4" r="6.5" fill="#F8766D"/>
<circle cx="246.9" cy="1015.6" r="6.5" fill="#F8766D"/>
<circle cx="329.5" cy="1119.5" r="6.5" fill="#619CFF"/>
<circle cx="550.5" cy="1137.2" r="6.5" fill="#619CFF"/>
<circle cx="182.5" cy="762.3" r="3.6" fill="#000"/>
<circle cx="282.8" cy="764.7" r="3.6" fill="#000"/>
<circle cx="274.0" cy="877.0" r="3.6" fill="#000"/>
<circle cx="251.5" cy="1003.4" r="3.6" fill="#000"/>
<circle cx="246.9" cy="1015.6" r="3.6" fill="#000"/>
<circle cx="329.5" cy="1119.5" r="3.6" fill="#000"/>
<circle cx="550.5" cy="1137.2" r="3.6" fill="#000"/>
<line x1="150.4" y1="1023.8" x2="655.4" y2="1023.8" stroke="#000" stroke-opacity="0.11" stroke-width="4.0" stroke-dasharray="27.4 12"/>
<line x1="304.6" y1="1177.1" x2="304.6" y2="672.4" stroke="#000" stroke-opacity="0.11" stroke-width="4.0" stroke-dasharray="27.4 12"/>
<line x1="151.1" y1="1177.1" x2="655.4" y2="672.4" stroke="#000" stroke-width="3.9" stroke-dasharray="16 15.7" stroke-dashoffset="22.7"/>
<polyline points="182.5,762.3 191.1,754.2" fill="none" stroke="#000" stroke-width="2.6"/>
<polyline points="282.8,764.7 291.4,772.9" fill="none" stroke="#000" stroke-width="2.6"/>
<polyline points="251.5,1003.4 259.6,995.7" fill="none" stroke="#000" stroke-width="2.6"/>
<polyline points="246.9,1015.6 235.1,1030 234.6,1034" fill="none" stroke="#000" stroke-width="2.6"/>
<polyline points="247.9,1015.6 253.5,1018.7 310.8,1018.7" fill="none" stroke="#000" stroke-width="2.6"/>
<polyline points="329.5,1119.5 337.3,1126.8" fill="none" stroke="#000" stroke-width="2.6"/>
<polyline points="550.5,1137.2 554.4,1130 554.4,1117.7" fill="none" stroke="#000" stroke-width="2.6"/>
<text x="162.4" y="747.8" font-size="21.5" fill="#000" textLength="121.0" lengthAdjust="spacingAndGlyphs"><tspan font-style="italic">DOCK7</tspan> : TG</text>
<text x="272" y="796.8" font-size="21.5" fill="#000" textLength="117.1" lengthAdjust="spacingAndGlyphs"><tspan font-style="italic">PDE3B</tspan> : TG</text>
<text x="291" y="885" font-size="21.5" fill="#000" textLength="131.3" lengthAdjust="spacingAndGlyphs"><tspan font-style="italic">PDE3B</tspan> : HDL</text>
<text x="212" y="988.3" font-size="21.5" fill="#000" textLength="125.5" lengthAdjust="spacingAndGlyphs"><tspan font-style="italic">HBB</tspan> : HbA1c</text>
<text x="319.2" y="1026.3" font-size="21.5" fill="#000" textLength="140.9" lengthAdjust="spacingAndGlyphs"><tspan font-style="italic">PAPPA2</tspan> : IGF1</text>
<text x="162.3" y="1055.7" font-size="21.5" fill="#000" textLength="129.4" lengthAdjust="spacingAndGlyphs"><tspan font-style="italic">ZNF12</tspan> : IGF1</text>
<text x="343.8" y="1141.1" font-size="21.5" fill="#000" textLength="109.2" lengthAdjust="spacingAndGlyphs"><tspan font-style="italic">ZNF7</tspan> : ALT</text>
<text x="464.7" y="1110.4" font-size="21.5" fill="#000" textLength="179.4" lengthAdjust="spacingAndGlyphs"><tspan font-style="italic">ALDH16A1</tspan> : Urate</text>
</g>
<rect x="151.1" y="672.4" width="504.29999999999995" height="504.69999999999993" fill="none" stroke="#333" stroke-width="2"/>
<line x1="140.6" y1="1154.8" x2="151.1" y2="1154.8" stroke="#333" stroke-width="3.2"/>
<line x1="173.0" y1="1177.1" x2="173.0" y2="1187.6" stroke="#333" stroke-width="3.2"/>
<text x="131.6" y="1166.5" font-size="33" text-anchor="end" fill="#4D4D4D" font-weight="normal" font-style="normal" >0</text>
<text x="173.0" y="1220.3" font-size="33" text-anchor="middle" fill="#4D4D4D" font-weight="normal" font-style="normal" >0</text>
<line x1="140.6" y1="986.0999999999999" x2="151.1" y2="986.0999999999999" stroke="#333" stroke-width="3.2"/>
<line x1="341.9" y1="1177.1" x2="341.9" y2="1187.6" stroke="#333" stroke-width="3.2"/>
<text x="131.6" y="997.8" font-size="33" text-anchor="end" fill="#4D4D4D" font-weight="normal" font-style="normal" >10</text>
<text x="341.9" y="1220.3" font-size="33" text-anchor="middle" fill="#4D4D4D" font-weight="normal" font-style="normal" >10</text>
<line x1="140.6" y1="817.3999999999999" x2="151.1" y2="817.3999999999999" stroke="#333" stroke-width="3.2"/>
<line x1="510.8" y1="1177.1" x2="510.8" y2="1187.6" stroke="#333" stroke-width="3.2"/>
<text x="131.6" y="829.1" font-size="33" text-anchor="end" fill="#4D4D4D" font-weight="normal" font-style="normal" >20</text>
<text x="510.8" y="1220.3" font-size="33" text-anchor="middle" fill="#4D4D4D" font-weight="normal" font-style="normal" >20</text>
<text x="402.3" y="1261.1" font-size="33.5" text-anchor="middle" fill="#000" font-weight="normal" font-style="normal" textLength="319" lengthAdjust="spacingAndGlyphs" ><tspan font-size="37.7" dy="2.9">−</tspan><tspan dy="-2.9">log10(EUR p</tspan><tspan font-size="37.7" dy="2.9">−</tspan><tspan dy="-2.9">value)</tspan></text>
<text transform="translate(77.4,925.5) rotate(-90)" x="0" y="0" font-size="33.5" text-anchor="middle" fill="#000" textLength="292.2" lengthAdjust="spacingAndGlyphs"><tspan font-size="37.7" dy="2.9">−</tspan><tspan dy="-2.9">log10(AA p</tspan><tspan font-size="37.7" dy="2.9">−</tspan><tspan dy="-2.9">value)</tspan></text>
<text x="34.8" y="682.6" font-size="59.5" text-anchor="start" fill="#000" font-weight="bold" font-style="normal" textLength="32.3" lengthAdjust="spacingAndGlyphs" >c</text>
<rect x="858.0" y="686.4" width="228.8" height="235.0" fill="#F2F9EF"/>
<text x="972.3" y="819.5" font-size="43.5" text-anchor="middle" fill="#000" font-weight="normal" font-style="normal" textLength="26.1" lengthAdjust="spacingAndGlyphs" >9</text>
<rect x="1030.9" y="858.7" width="12.2" height="5.5" fill="#fff" stroke="#000" stroke-width="3.2"/>
<rect x="1093.1" y="686.4" width="229.1" height="235.0" fill="#00441B"/>
<text x="1208.9" y="819.5" font-size="43.5" text-anchor="middle" fill="#fff" font-weight="normal" font-style="normal" textLength="70.2" lengthAdjust="spacingAndGlyphs" >194</text>
<rect x="1266.9" y="743.7" width="11.5" height="120.4" fill="#fff" stroke="#000" stroke-width="3.2"/>
<rect x="858.0" y="928.3" width="228.8" height="234.7" fill="#F6FBF3"/>
<text x="972.2" y="1061.2" font-size="43.5" text-anchor="middle" fill="#000" font-weight="normal" font-style="normal" textLength="24.2" lengthAdjust="spacingAndGlyphs" >4</text>
<rect x="1030.6" y="1103.1" width="12.3" height="3.3" fill="#fff" stroke="#000" stroke-width="3.2"/>
<rect x="1093.1" y="928.3" width="229.1" height="234.7" fill="#ECF7E9"/>
<text x="1208.7" y="1061.2" font-size="43.5" text-anchor="middle" fill="#000" font-weight="normal" font-style="normal" textLength="47.4" lengthAdjust="spacingAndGlyphs" >16</text>
<rect x="1266.5" y="1095.6" width="11.9" height="10.8" fill="#fff" stroke="#000" stroke-width="3.2"/>
<line x1="822.4" y1="803.9" x2="831" y2="803.9" stroke="#333" stroke-width="3.2"/>
<text x="816.4" y="814.2" font-size="29" text-anchor="end" fill="#4D4D4D" font-weight="normal" font-style="normal" textLength="41.6" lengthAdjust="spacingAndGlyphs" >yes</text>
<line x1="822.4" y1="1045.65" x2="831" y2="1045.65" stroke="#333" stroke-width="3.2"/>
<text x="816.4" y="1055.8" font-size="29" text-anchor="end" fill="#4D4D4D" font-weight="normal" font-style="normal" textLength="31.0" lengthAdjust="spacingAndGlyphs" >no</text>
<line x1="972.4" y1="1190" x2="972.4" y2="1198.4" stroke="#333" stroke-width="3.2"/>
<text x="972.4" y="1225.8" font-size="29" text-anchor="middle" fill="#4D4D4D" font-weight="normal" font-style="normal" textLength="31.0" lengthAdjust="spacingAndGlyphs" >no</text>
<line x1="1207.7" y1="1190" x2="1207.7" y2="1198.4" stroke="#333" stroke-width="3.2"/>
<text x="1207.7" y="1225.8" font-size="29" text-anchor="middle" fill="#4D4D4D" font-weight="normal" font-style="normal" textLength="41.6" lengthAdjust="spacingAndGlyphs" >yes</text>
<text x="1090.2" y="1263.8" font-size="33" text-anchor="middle" fill="#000" font-weight="normal" font-style="normal" >variant type consistent</text>
<text transform="translate(760.3,924.3) rotate(-90)" x="0" y="0" font-size="33.3" text-anchor="middle" fill="#000">test type consistent</text>
<text x="734.0" y="676.1" font-size="56.5" text-anchor="start" fill="#000" font-weight="bold" font-style="normal" textLength="36.4" lengthAdjust="spacingAndGlyphs" >d</text>
</svg></body></html>
